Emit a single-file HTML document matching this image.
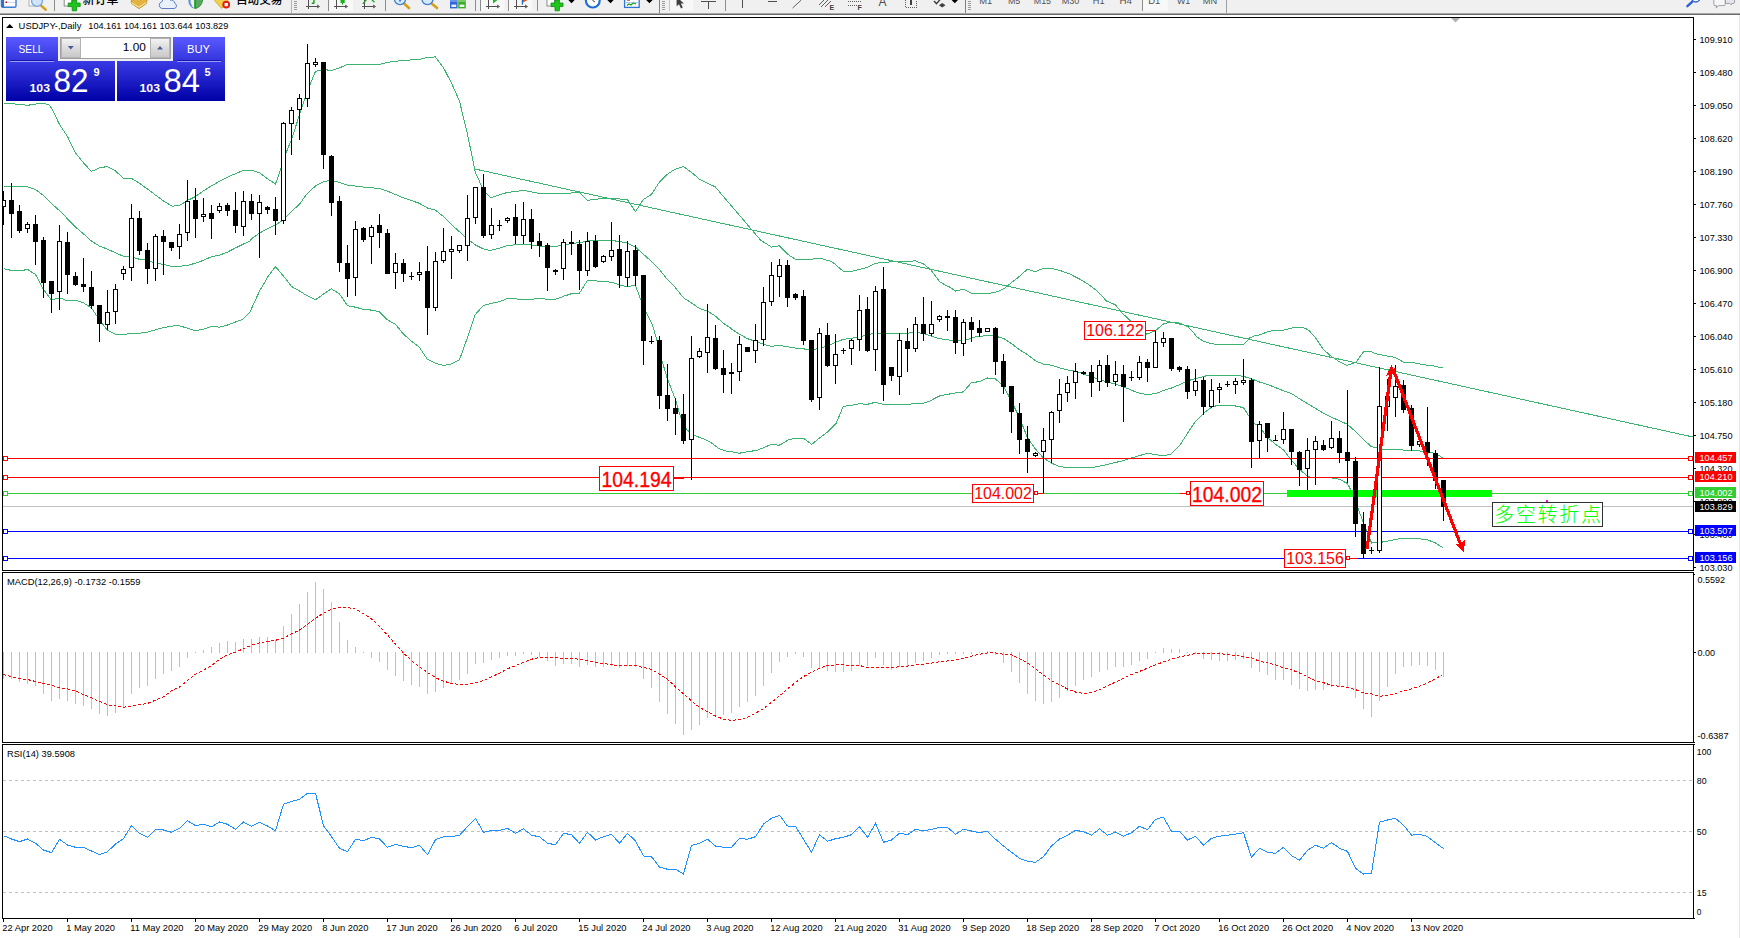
<!DOCTYPE html>
<html><head><meta charset="utf-8"><title>USDJPY Daily</title>
<style>html,body{margin:0;padding:0;background:#fff;}body{width:1740px;height:938px;overflow:hidden;}svg{display:block;}</style>
</head><body>
<svg width="1740" height="938" viewBox="0 0 1740 938" font-family='"Liberation Sans", "Noto Sans CJK SC", sans-serif' shape-rendering="crispEdges">
<defs><linearGradient id="gb" x1="0" y1="0" x2="0" y2="1"><stop offset="0" stop-color="#5a5aff"/><stop offset="1" stop-color="#3434de"/></linearGradient><linearGradient id="gp" x1="0" y1="0" x2="0" y2="1"><stop offset="0" stop-color="#3b3be6"/><stop offset="1" stop-color="#0000a6"/></linearGradient><linearGradient id="gg" x1="0" y1="0" x2="0" y2="1"><stop offset="0" stop-color="#f4f4f4"/><stop offset="0.5" stop-color="#dcdcdc"/><stop offset="1" stop-color="#c8c8c8"/></linearGradient><clipPath id="cm"><rect x="3" y="18" width="1690" height="552"/></clipPath><clipPath id="ctb"><rect x="0" y="0" width="1740" height="13"/></clipPath></defs>
<rect x="0" y="0" width="1740" height="938" fill="#fff" />
<!--TOOLBAR-->
<rect x="0" y="0" width="1740" height="13" fill="#f0f0f0" />
<rect x="0" y="13" width="1740" height="1" fill="#a8a8a8" />
<rect x="0" y="14" width="1740" height="1" fill="#6a6a6a" />
<!--FRAMES-->
<rect x="2" y="17" width="1692" height="1" fill="#000" />
<rect x="2" y="17" width="1" height="554" fill="#000" />
<rect x="2" y="570" width="1692" height="1" fill="#000" />
<rect x="2" y="572" width="1692" height="1" fill="#000" />
<rect x="2" y="572" width="1" height="171" fill="#000" />
<rect x="2" y="742" width="1692" height="1" fill="#000" />
<rect x="2" y="744" width="1692" height="1" fill="#000" />
<rect x="2" y="744" width="1" height="175" fill="#000" />
<rect x="2" y="918" width="1692" height="1" fill="#000" />
<rect x="1693" y="17" width="1" height="554" fill="#000" />
<rect x="1693" y="572" width="1" height="171" fill="#000" />
<rect x="1693" y="744" width="1" height="175" fill="#000" />
<rect x="1694" y="742" width="1" height="1" fill="#000" />
<rect x="1694" y="744" width="1" height="1" fill="#000" />
<rect x="1694" y="918" width="1" height="1" fill="#000" />
<rect x="1694" y="574" width="1" height="1" fill="#000" />
<rect x="1739" y="15" width="1" height="923" fill="#e6e6e6" />
<!--MAIN-->
<rect x="1694" y="39" width="2" height="1" fill="#000" />
<text x="1699.5" y="43" font-size="9.8" fill="#000" text-anchor="start" font-weight="normal" textLength="33" lengthAdjust="spacingAndGlyphs" >109.910</text>
<rect x="1694" y="72" width="2" height="1" fill="#000" />
<text x="1699.5" y="76" font-size="9.8" fill="#000" text-anchor="start" font-weight="normal" textLength="33" lengthAdjust="spacingAndGlyphs" >109.480</text>
<rect x="1694" y="105" width="2" height="1" fill="#000" />
<text x="1699.5" y="109" font-size="9.8" fill="#000" text-anchor="start" font-weight="normal" textLength="33" lengthAdjust="spacingAndGlyphs" >109.050</text>
<rect x="1694" y="138" width="2" height="1" fill="#000" />
<text x="1699.5" y="142" font-size="9.8" fill="#000" text-anchor="start" font-weight="normal" textLength="33" lengthAdjust="spacingAndGlyphs" >108.620</text>
<rect x="1694" y="171" width="2" height="1" fill="#000" />
<text x="1699.5" y="175" font-size="9.8" fill="#000" text-anchor="start" font-weight="normal" textLength="33" lengthAdjust="spacingAndGlyphs" >108.190</text>
<rect x="1694" y="204" width="2" height="1" fill="#000" />
<text x="1699.5" y="208" font-size="9.8" fill="#000" text-anchor="start" font-weight="normal" textLength="33" lengthAdjust="spacingAndGlyphs" >107.760</text>
<rect x="1694" y="237" width="2" height="1" fill="#000" />
<text x="1699.5" y="241" font-size="9.8" fill="#000" text-anchor="start" font-weight="normal" textLength="33" lengthAdjust="spacingAndGlyphs" >107.330</text>
<rect x="1694" y="270" width="2" height="1" fill="#000" />
<text x="1699.5" y="274" font-size="9.8" fill="#000" text-anchor="start" font-weight="normal" textLength="33" lengthAdjust="spacingAndGlyphs" >106.900</text>
<rect x="1694" y="303" width="2" height="1" fill="#000" />
<text x="1699.5" y="307" font-size="9.8" fill="#000" text-anchor="start" font-weight="normal" textLength="33" lengthAdjust="spacingAndGlyphs" >106.470</text>
<rect x="1694" y="336" width="2" height="1" fill="#000" />
<text x="1699.5" y="340" font-size="9.8" fill="#000" text-anchor="start" font-weight="normal" textLength="33" lengthAdjust="spacingAndGlyphs" >106.040</text>
<rect x="1694" y="369" width="2" height="1" fill="#000" />
<text x="1699.5" y="373" font-size="9.8" fill="#000" text-anchor="start" font-weight="normal" textLength="33" lengthAdjust="spacingAndGlyphs" >105.610</text>
<rect x="1694" y="402" width="2" height="1" fill="#000" />
<text x="1699.5" y="406" font-size="9.8" fill="#000" text-anchor="start" font-weight="normal" textLength="33" lengthAdjust="spacingAndGlyphs" >105.180</text>
<rect x="1694" y="435" width="2" height="1" fill="#000" />
<text x="1699.5" y="439" font-size="9.8" fill="#000" text-anchor="start" font-weight="normal" textLength="33" lengthAdjust="spacingAndGlyphs" >104.750</text>
<rect x="1694" y="468" width="2" height="1" fill="#000" />
<text x="1699.5" y="472" font-size="9.8" fill="#000" text-anchor="start" font-weight="normal" textLength="33" lengthAdjust="spacingAndGlyphs" >104.320</text>
<rect x="1694" y="501" width="2" height="1" fill="#000" />
<text x="1699.5" y="505" font-size="9.8" fill="#000" text-anchor="start" font-weight="normal" textLength="33" lengthAdjust="spacingAndGlyphs" >103.890</text>
<rect x="1694" y="534" width="2" height="1" fill="#000" />
<text x="1699.5" y="538" font-size="9.8" fill="#000" text-anchor="start" font-weight="normal" textLength="33" lengthAdjust="spacingAndGlyphs" >103.460</text>
<rect x="1694" y="567" width="2" height="1" fill="#000" />
<text x="1699.5" y="571" font-size="9.8" fill="#000" text-anchor="start" font-weight="normal" textLength="33" lengthAdjust="spacingAndGlyphs" >103.030</text>
<g clip-path="url(#cm)">
<polyline points="474.0,168.8 1693.0,437.0" fill="none" stroke="#3cb371" stroke-width="1" />
<polyline points="3.6,103.1 11.5,103.7 19.4,104.5 27.6,105.3 35.5,104.1 43.6,103.1 49.6,105.1 53.7,112.2 59.4,124.4 67.5,136.5 75.4,152.7 83.5,162.9 91.4,171.4 99.5,167.9 107.4,166.5 115.5,171.0 123.4,178.3 131.5,178.5 139.4,183.1 147.9,189.4 156.0,195.5 164.1,201.5 172.2,206.2 179.3,205.6 187.4,200.5 195.5,196.5 202.6,191.4 210.7,186.3 219.4,181.3 227.3,177.2 235.2,173.8 243.3,170.5 250.0,170.1 251.5,170.2 259.4,172.8 267.6,178.9 275.5,184.0 280.5,169.8 286.6,151.6 291.5,139.4 299.4,115.1 307.5,90.8 315.4,71.5 323.5,69.5 331.4,70.5 339.5,67.9 347.4,64.4 363.4,64.4 379.4,64.4 387.3,62.4 403.3,60.4 419.3,59.4 427.4,57.4 435.3,56.9 443.4,67.5 451.3,82.7 459.4,100.9 467.3,133.3 475.2,171.8 483.3,190.0 490.0,197.1 491.5,197.5 499.4,194.8 507.6,192.4 523.6,190.4 539.4,193.4 555.4,193.4 571.4,193.0 579.5,192.4 587.4,200.5 595.5,199.1 611.5,198.5 627.3,199.5 635.4,211.7 643.3,199.5 651.4,194.4 659.3,182.3 667.4,174.2 675.3,169.1 683.4,166.5 691.3,172.2 699.4,179.2 707.3,183.3 715.2,186.7 723.3,196.5 730.0,204.2 760.5,240.0 771.5,247.1 779.4,245.7 787.5,254.2 795.4,259.2 811.4,259.2 819.5,258.2 831.4,261.3 837.5,266.3 843.4,271.4 851.5,271.4 859.4,269.4 867.3,267.4 875.4,263.3 883.3,262.3 891.4,261.9 899.3,261.9 907.4,261.3 915.3,260.9 923.4,263.9 931.3,270.4 939.4,281.5 947.3,286.2 950.0,287.2 955.7,291.1 962.9,289.2 971.6,293.2 980.2,293.5 990.2,293.2 997.4,291.8 1004.6,288.2 1011.8,282.4 1019.0,276.7 1027.6,269.1 1034.8,271.7 1043.4,268.5 1052.0,268.5 1059.2,270.2 1069.3,273.8 1079.3,278.9 1087.9,283.9 1098.0,291.8 1106.6,301.1 1115.2,304.7 1122.4,313.3 1131.0,321.2 1139.7,329.1 1146.8,334.2 1155.5,330.6 1164.1,323.4 1171.3,322.4 1178.4,322.7 1187.1,326.3 1194.3,333.4 1196.0,336.3 1203.4,341.3 1209.4,343.0 1216.9,344.5 1227.4,344.5 1243.8,344.5 1249.8,337.8 1254.3,336.0 1260.2,334.8 1266.2,332.3 1273.7,330.3 1284.1,330.0 1291.6,328.1 1297.6,327.1 1305.1,328.1 1309.5,331.1 1315.5,337.8 1323.0,349.0 1330.5,355.8 1339.4,361.7 1346.9,365.5 1355.9,362.5 1363.3,352.0 1369.3,351.0 1376.8,354.0 1385.8,355.8 1394.7,357.2 1403.7,362.2 1412.7,362.5 1423.1,364.7 1435.1,366.2 1442.5,368.0" fill="none" stroke="#3cb371" stroke-width="1" />
<polyline points="3.6,186.3 11.5,186.3 19.4,186.9 27.6,186.9 35.5,189.4 43.6,195.5 51.5,203.6 59.4,210.6 67.5,218.8 75.4,226.9 83.5,233.9 91.4,241.0 99.5,246.1 107.4,249.1 115.5,252.8 123.4,256.2 131.5,256.8 139.4,259.3 147.3,260.3 155.4,263.3 163.3,264.3 171.4,266.4 179.3,266.4 187.4,265.3 195.3,263.3 203.4,260.3 211.3,256.8 219.4,255.2 227.3,252.2 235.2,248.1 243.3,244.1 250.0,241.0 251.5,238.8 259.4,233.1 267.6,228.6 275.5,225.0 283.6,219.5 291.5,211.4 299.4,204.3 307.5,193.2 315.4,186.1 323.5,181.6 331.4,180.4 339.5,182.4 347.4,185.1 363.4,187.1 379.4,188.5 387.3,191.1 403.3,197.8 419.3,203.3 427.4,208.0 435.3,210.0 443.4,216.5 451.3,224.6 459.4,231.7 467.3,238.8 475.2,244.8 483.3,248.9 490.0,250.5 491.5,250.2 499.4,248.1 507.6,245.5 523.6,244.1 531.5,245.1 539.4,246.1 555.4,246.5 563.5,245.1 571.4,243.5 579.5,242.7 587.4,241.0 595.5,240.4 611.5,240.4 619.4,241.6 627.3,243.1 635.4,247.1 643.3,254.2 651.4,261.3 659.3,269.4 667.4,279.5 675.3,287.6 683.4,297.8 691.3,302.8 699.4,308.5 707.3,310.9 715.2,316.0 723.3,323.1 730.0,327.7 731.5,329.1 739.4,334.2 747.6,338.7 755.5,341.3 763.6,344.3 771.5,346.4 779.4,345.3 787.5,346.8 795.4,348.0 803.5,348.8 811.4,350.4 819.5,348.0 827.4,346.4 835.5,342.3 843.4,339.3 851.5,338.3 859.4,336.6 867.3,335.2 875.4,332.8 883.3,333.6 891.4,333.6 899.3,333.6 907.4,333.2 915.3,332.2 923.4,333.6 931.3,336.2 939.4,338.7 947.3,339.7 955.2,341.3 963.3,340.3 970.0,338.7 971.5,337.5 979.4,336.5 987.6,335.5 995.5,336.1 1003.6,338.5 1011.5,343.6 1019.4,349.6 1027.5,354.7 1035.4,360.8 1043.5,364.2 1051.4,365.2 1059.5,367.9 1067.4,369.9 1075.5,371.3 1083.4,373.9 1091.5,377.0 1099.4,379.4 1107.3,382.1 1115.4,384.1 1123.3,386.7 1131.4,390.2 1139.3,393.2 1147.4,394.6 1155.3,393.6 1163.4,390.6 1171.3,388.1 1179.4,384.7 1187.3,381.0 1195.2,378.6 1203.3,376.6 1208.0,375.3 1210.0,375.4 1219.5,375.1 1227.5,375.1 1235.5,375.1 1243.5,376.4 1251.5,378.8 1259.5,382.0 1267.5,384.4 1275.5,387.6 1283.5,390.8 1291.4,393.5 1299.4,398.8 1307.4,403.6 1315.4,408.4 1323.4,413.1 1331.4,417.1 1339.4,420.8 1347.4,424.3 1355.4,431.5 1363.4,439.5 1371.4,446.7 1377.5,447.8 1383.9,449.4 1400.0,449.4 1403.4,450.2 1411.5,450.4 1419.5,451.0 1427.5,452.1 1435.5,453.4 1442.6,457.8" fill="none" stroke="#3cb371" stroke-width="1" />
<polyline points="3.6,268.8 11.5,270.4 19.4,271.0 27.6,269.4 35.5,274.5 43.6,289.7 51.5,300.2 59.4,297.8 67.5,300.8 75.4,300.2 83.5,302.8 91.4,307.9 99.5,320.0 107.4,330.2 115.5,334.2 123.4,334.2 131.5,333.8 139.4,333.2 147.3,332.2 155.4,329.8 163.3,327.7 171.4,326.1 179.3,325.7 187.4,328.2 195.3,330.6 203.4,329.2 211.3,326.5 219.4,327.1 227.3,325.1 235.2,322.1 243.3,319.0 250.0,311.9 259.4,291.4 267.6,277.2 275.5,266.7 283.6,276.2 291.5,286.4 299.4,291.0 307.5,295.9 315.4,299.9 323.5,294.1 331.4,288.8 339.5,293.9 347.4,305.6 355.5,307.2 363.4,309.3 371.5,310.1 379.4,311.7 387.3,319.8 395.4,324.2 403.3,334.0 411.4,341.1 419.3,347.1 427.4,359.3 435.3,363.3 443.4,365.4 451.3,364.0 459.4,359.9 467.3,338.0 475.2,314.7 483.3,305.6 490.0,303.6 499.4,301.8 507.6,298.4 523.6,299.4 539.4,298.8 555.4,299.4 563.5,296.3 571.4,293.7 579.5,293.1 587.4,280.5 595.5,280.9 611.5,282.2 619.4,285.0 627.3,286.6 635.4,285.2 640.0,297.8 646.1,311.9 652.2,324.1 656.3,338.3 662.3,361.7 667.4,378.9 675.3,399.1 680.6,417.4 686.6,429.5 694.7,435.6 702.9,438.6 711.0,442.7 719.1,448.8 726.2,451.2 730.0,451.2 738.8,453.3 746.9,451.9 757.0,450.3 763.1,447.9 771.2,444.4 779.3,445.2 789.4,439.4 795.5,438.3 803.6,438.3 811.7,444.4 819.8,437.7 827.9,431.7 836.0,423.6 843.3,406.3 851.4,405.3 859.3,403.7 867.4,404.3 875.3,402.3 883.4,404.3 891.3,404.3 899.4,404.3 909.9,404.3 915.2,403.3 923.3,403.3 930.0,400.9 939.4,396.0 947.3,394.4 955.2,393.0 963.3,391.9 970.0,384.2 971.5,382.7 979.4,381.6 987.6,378.0 995.5,379.0 1003.6,386.1 1011.5,401.3 1019.4,417.5 1027.5,437.8 1035.4,448.9 1043.5,458.0 1051.4,463.1 1059.5,466.5 1067.4,467.7 1075.5,467.7 1091.5,467.7 1099.4,466.1 1107.3,464.5 1115.4,462.5 1123.3,460.7 1131.4,458.0 1139.3,455.6 1147.4,453.4 1155.3,454.4 1163.4,456.0 1171.3,454.0 1179.4,445.9 1187.3,433.7 1195.2,421.6 1203.3,413.5 1210.0,408.4 1211.5,406.8 1219.5,405.2 1227.5,405.5 1235.5,406.0 1243.5,407.6 1248.0,414.7 1254.4,423.5 1259.5,426.7 1267.5,437.6 1275.5,444.3 1283.5,449.9 1291.4,460.3 1299.4,469.1 1307.4,476.3 1311.9,477.4 1327.9,477.4 1339.4,479.2 1347.4,483.5 1350.3,489.1 1358.0,508.5 1362.5,520.2 1367.7,533.2 1371.6,543.0 1375.5,542.6 1382.0,542.1 1391.1,540.4 1401.5,538.4 1414.5,538.2 1427.6,539.8 1435.5,543.0 1442.6,547.6" fill="none" stroke="#3cb371" stroke-width="1" />
<rect x="3" y="458" width="1690" height="1" fill="#ff0000" />
<rect x="3" y="477" width="1690" height="1" fill="#ff0000" />
<rect x="3" y="493" width="1690" height="1" fill="#32cd32" />
<rect x="3" y="506" width="1690" height="1" fill="#c0c0c0" />
<rect x="3" y="531" width="1690" height="1" fill="#0000ff" />
<rect x="3" y="558" width="1690" height="1" fill="#0000ff" />
<rect x="1287" y="490" width="205" height="7" fill="#00ff00" />
<rect x="3" y="191" width="1" height="34" fill="#000" />
<rect x="1" y="200" width="5" height="7" fill="#000" />
<rect x="2" y="201" width="3" height="5" fill="#fff" />
<rect x="11" y="183" width="1" height="55" fill="#000" />
<rect x="9" y="200" width="5" height="14" fill="#000" />
<rect x="19" y="205" width="1" height="28" fill="#000" />
<rect x="17" y="211" width="5" height="20" fill="#000" />
<rect x="27" y="222" width="1" height="11" fill="#000" />
<rect x="25" y="224" width="5" height="5" fill="#000" />
<rect x="26" y="225" width="3" height="3" fill="#fff" />
<rect x="35" y="215" width="1" height="50" fill="#000" />
<rect x="33" y="224" width="5" height="18" fill="#000" />
<rect x="43" y="237" width="1" height="61" fill="#000" />
<rect x="41" y="240" width="5" height="43" fill="#000" />
<rect x="51" y="281" width="1" height="32" fill="#000" />
<rect x="49" y="281" width="5" height="13" fill="#000" />
<rect x="59" y="225" width="1" height="85" fill="#000" />
<rect x="57" y="241" width="5" height="51" fill="#000" />
<rect x="58" y="242" width="3" height="49" fill="#fff" />
<rect x="67" y="232" width="1" height="62" fill="#000" />
<rect x="65" y="242" width="5" height="33" fill="#000" />
<rect x="75" y="272" width="1" height="14" fill="#000" />
<rect x="73" y="276" width="5" height="9" fill="#000" />
<rect x="83" y="258" width="1" height="34" fill="#000" />
<rect x="81" y="284" width="5" height="3" fill="#000" />
<rect x="91" y="271" width="1" height="38" fill="#000" />
<rect x="89" y="287" width="5" height="19" fill="#000" />
<rect x="99" y="305" width="1" height="37" fill="#000" />
<rect x="97" y="305" width="5" height="19" fill="#000" />
<rect x="107" y="290" width="1" height="40" fill="#000" />
<rect x="105" y="312" width="5" height="13" fill="#000" />
<rect x="106" y="313" width="3" height="11" fill="#fff" />
<rect x="115" y="284" width="1" height="40" fill="#000" />
<rect x="113" y="289" width="5" height="23" fill="#000" />
<rect x="114" y="290" width="3" height="21" fill="#fff" />
<rect x="123" y="266" width="1" height="14" fill="#000" />
<rect x="121" y="269" width="5" height="5" fill="#000" />
<rect x="122" y="270" width="3" height="3" fill="#fff" />
<rect x="131" y="204" width="1" height="77" fill="#000" />
<rect x="129" y="218" width="5" height="50" fill="#000" />
<rect x="130" y="219" width="3" height="48" fill="#fff" />
<rect x="139" y="211" width="1" height="44" fill="#000" />
<rect x="137" y="218" width="5" height="33" fill="#000" />
<rect x="147" y="243" width="1" height="41" fill="#000" />
<rect x="145" y="250" width="5" height="19" fill="#000" />
<rect x="155" y="234" width="1" height="47" fill="#000" />
<rect x="153" y="236" width="5" height="33" fill="#000" />
<rect x="154" y="237" width="3" height="31" fill="#fff" />
<rect x="163" y="230" width="1" height="45" fill="#000" />
<rect x="161" y="236" width="5" height="6" fill="#000" />
<rect x="171" y="242" width="1" height="9" fill="#000" />
<rect x="169" y="242" width="5" height="6" fill="#000" />
<rect x="179" y="224" width="1" height="35" fill="#000" />
<rect x="177" y="234" width="5" height="13" fill="#000" />
<rect x="178" y="235" width="3" height="11" fill="#fff" />
<rect x="187" y="180" width="1" height="61" fill="#000" />
<rect x="185" y="201" width="5" height="32" fill="#000" />
<rect x="186" y="202" width="3" height="30" fill="#fff" />
<rect x="195" y="188" width="1" height="50" fill="#000" />
<rect x="193" y="200" width="5" height="19" fill="#000" />
<rect x="203" y="198" width="1" height="24" fill="#000" />
<rect x="201" y="214" width="5" height="3" fill="#000" />
<rect x="202" y="215" width="3" height="1" fill="#fff" />
<rect x="211" y="205" width="1" height="34" fill="#000" />
<rect x="209" y="213" width="5" height="6" fill="#000" />
<rect x="219" y="203" width="1" height="10" fill="#000" />
<rect x="217" y="206" width="5" height="5" fill="#000" />
<rect x="218" y="207" width="3" height="3" fill="#fff" />
<rect x="227" y="203" width="1" height="13" fill="#000" />
<rect x="225" y="205" width="5" height="6" fill="#000" />
<rect x="235" y="192" width="1" height="41" fill="#000" />
<rect x="233" y="210" width="5" height="16" fill="#000" />
<rect x="243" y="191" width="1" height="45" fill="#000" />
<rect x="241" y="201" width="5" height="26" fill="#000" />
<rect x="242" y="202" width="3" height="24" fill="#fff" />
<rect x="251" y="194" width="1" height="26" fill="#000" />
<rect x="249" y="201" width="5" height="13" fill="#000" />
<rect x="259" y="195" width="1" height="63" fill="#000" />
<rect x="257" y="202" width="5" height="12" fill="#000" />
<rect x="258" y="203" width="3" height="10" fill="#fff" />
<rect x="267" y="206" width="1" height="8" fill="#000" />
<rect x="265" y="207" width="5" height="3" fill="#000" />
<rect x="275" y="197" width="1" height="38" fill="#000" />
<rect x="273" y="209" width="5" height="12" fill="#000" />
<rect x="283" y="122" width="1" height="102" fill="#000" />
<rect x="281" y="123" width="5" height="98" fill="#000" />
<rect x="282" y="124" width="3" height="96" fill="#fff" />
<rect x="291" y="107" width="1" height="48" fill="#000" />
<rect x="289" y="110" width="5" height="14" fill="#000" />
<rect x="290" y="111" width="3" height="12" fill="#fff" />
<rect x="299" y="94" width="1" height="46" fill="#000" />
<rect x="297" y="98" width="5" height="12" fill="#000" />
<rect x="298" y="99" width="3" height="10" fill="#fff" />
<rect x="307" y="44" width="1" height="63" fill="#000" />
<rect x="305" y="63" width="5" height="36" fill="#000" />
<rect x="306" y="64" width="3" height="34" fill="#fff" />
<rect x="315" y="58" width="1" height="9" fill="#000" />
<rect x="313" y="62" width="5" height="3" fill="#000" />
<rect x="314" y="63" width="3" height="1" fill="#fff" />
<rect x="323" y="62" width="1" height="107" fill="#000" />
<rect x="321" y="62" width="5" height="93" fill="#000" />
<rect x="331" y="155" width="1" height="61" fill="#000" />
<rect x="329" y="156" width="5" height="47" fill="#000" />
<rect x="339" y="196" width="1" height="76" fill="#000" />
<rect x="337" y="201" width="5" height="62" fill="#000" />
<rect x="347" y="245" width="1" height="52" fill="#000" />
<rect x="345" y="263" width="5" height="16" fill="#000" />
<rect x="355" y="221" width="1" height="75" fill="#000" />
<rect x="353" y="229" width="5" height="49" fill="#000" />
<rect x="354" y="230" width="3" height="47" fill="#fff" />
<rect x="363" y="227" width="1" height="15" fill="#000" />
<rect x="361" y="228" width="5" height="12" fill="#000" />
<rect x="371" y="225" width="1" height="39" fill="#000" />
<rect x="369" y="227" width="5" height="10" fill="#000" />
<rect x="370" y="228" width="3" height="8" fill="#fff" />
<rect x="379" y="214" width="1" height="34" fill="#000" />
<rect x="377" y="225" width="5" height="8" fill="#000" />
<rect x="387" y="229" width="1" height="45" fill="#000" />
<rect x="385" y="233" width="5" height="41" fill="#000" />
<rect x="395" y="253" width="1" height="36" fill="#000" />
<rect x="393" y="263" width="5" height="10" fill="#000" />
<rect x="394" y="264" width="3" height="8" fill="#fff" />
<rect x="403" y="259" width="1" height="23" fill="#000" />
<rect x="401" y="263" width="5" height="11" fill="#000" />
<rect x="411" y="272" width="1" height="8" fill="#000" />
<rect x="409" y="276" width="5" height="1" fill="#000" />
<rect x="419" y="262" width="1" height="19" fill="#000" />
<rect x="417" y="272" width="5" height="3" fill="#000" />
<rect x="418" y="273" width="3" height="1" fill="#fff" />
<rect x="427" y="246" width="1" height="89" fill="#000" />
<rect x="425" y="271" width="5" height="37" fill="#000" />
<rect x="435" y="252" width="1" height="59" fill="#000" />
<rect x="433" y="261" width="5" height="47" fill="#000" />
<rect x="434" y="262" width="3" height="45" fill="#fff" />
<rect x="443" y="228" width="1" height="35" fill="#000" />
<rect x="441" y="251" width="5" height="10" fill="#000" />
<rect x="442" y="252" width="3" height="8" fill="#fff" />
<rect x="451" y="236" width="1" height="43" fill="#000" />
<rect x="449" y="249" width="5" height="3" fill="#000" />
<rect x="450" y="250" width="3" height="1" fill="#fff" />
<rect x="459" y="245" width="1" height="8" fill="#000" />
<rect x="457" y="245" width="5" height="6" fill="#000" />
<rect x="458" y="246" width="3" height="4" fill="#fff" />
<rect x="467" y="195" width="1" height="66" fill="#000" />
<rect x="465" y="218" width="5" height="28" fill="#000" />
<rect x="466" y="219" width="3" height="26" fill="#fff" />
<rect x="475" y="187" width="1" height="37" fill="#000" />
<rect x="473" y="187" width="5" height="31" fill="#000" />
<rect x="474" y="188" width="3" height="29" fill="#fff" />
<rect x="483" y="174" width="1" height="64" fill="#000" />
<rect x="481" y="187" width="5" height="49" fill="#000" />
<rect x="491" y="208" width="1" height="31" fill="#000" />
<rect x="489" y="225" width="5" height="10" fill="#000" />
<rect x="490" y="226" width="3" height="8" fill="#fff" />
<rect x="499" y="220" width="1" height="11" fill="#000" />
<rect x="497" y="225" width="5" height="1" fill="#000" />
<rect x="507" y="217" width="1" height="6" fill="#000" />
<rect x="505" y="218" width="5" height="3" fill="#000" />
<rect x="506" y="219" width="3" height="1" fill="#fff" />
<rect x="515" y="204" width="1" height="40" fill="#000" />
<rect x="513" y="217" width="5" height="19" fill="#000" />
<rect x="523" y="202" width="1" height="42" fill="#000" />
<rect x="521" y="219" width="5" height="17" fill="#000" />
<rect x="522" y="220" width="3" height="15" fill="#fff" />
<rect x="531" y="209" width="1" height="40" fill="#000" />
<rect x="529" y="219" width="5" height="23" fill="#000" />
<rect x="539" y="233" width="1" height="24" fill="#000" />
<rect x="537" y="241" width="5" height="5" fill="#000" />
<rect x="547" y="243" width="1" height="48" fill="#000" />
<rect x="545" y="245" width="5" height="23" fill="#000" />
<rect x="555" y="269" width="1" height="6" fill="#000" />
<rect x="553" y="270" width="5" height="2" fill="#000" />
<rect x="563" y="239" width="1" height="41" fill="#000" />
<rect x="561" y="242" width="5" height="27" fill="#000" />
<rect x="562" y="243" width="3" height="25" fill="#fff" />
<rect x="571" y="231" width="1" height="24" fill="#000" />
<rect x="569" y="242" width="5" height="2" fill="#000" />
<rect x="579" y="240" width="1" height="50" fill="#000" />
<rect x="577" y="244" width="5" height="27" fill="#000" />
<rect x="587" y="232" width="1" height="44" fill="#000" />
<rect x="585" y="241" width="5" height="30" fill="#000" />
<rect x="586" y="242" width="3" height="28" fill="#fff" />
<rect x="595" y="235" width="1" height="33" fill="#000" />
<rect x="593" y="241" width="5" height="26" fill="#000" />
<rect x="603" y="255" width="1" height="8" fill="#000" />
<rect x="601" y="256" width="5" height="6" fill="#000" />
<rect x="602" y="257" width="3" height="4" fill="#fff" />
<rect x="611" y="222" width="1" height="39" fill="#000" />
<rect x="609" y="250" width="5" height="7" fill="#000" />
<rect x="610" y="251" width="3" height="5" fill="#fff" />
<rect x="619" y="235" width="1" height="53" fill="#000" />
<rect x="617" y="249" width="5" height="27" fill="#000" />
<rect x="627" y="241" width="1" height="46" fill="#000" />
<rect x="625" y="251" width="5" height="27" fill="#000" />
<rect x="626" y="252" width="3" height="25" fill="#fff" />
<rect x="635" y="245" width="1" height="41" fill="#000" />
<rect x="633" y="250" width="5" height="26" fill="#000" />
<rect x="643" y="275" width="1" height="90" fill="#000" />
<rect x="641" y="275" width="5" height="66" fill="#000" />
<rect x="651" y="336" width="1" height="8" fill="#000" />
<rect x="649" y="341" width="5" height="1" fill="#000" />
<rect x="659" y="336" width="1" height="73" fill="#000" />
<rect x="657" y="340" width="5" height="56" fill="#000" />
<rect x="667" y="364" width="1" height="57" fill="#000" />
<rect x="665" y="395" width="5" height="14" fill="#000" />
<rect x="675" y="398" width="1" height="37" fill="#000" />
<rect x="673" y="408" width="5" height="6" fill="#000" />
<rect x="683" y="394" width="1" height="50" fill="#000" />
<rect x="681" y="414" width="5" height="27" fill="#000" />
<rect x="691" y="336" width="1" height="144" fill="#000" />
<rect x="689" y="358" width="5" height="82" fill="#000" />
<rect x="690" y="359" width="3" height="80" fill="#fff" />
<rect x="699" y="348" width="1" height="10" fill="#000" />
<rect x="697" y="351" width="5" height="6" fill="#000" />
<rect x="698" y="352" width="3" height="4" fill="#fff" />
<rect x="707" y="304" width="1" height="69" fill="#000" />
<rect x="705" y="337" width="5" height="16" fill="#000" />
<rect x="706" y="338" width="3" height="14" fill="#fff" />
<rect x="715" y="325" width="1" height="45" fill="#000" />
<rect x="713" y="338" width="5" height="31" fill="#000" />
<rect x="723" y="350" width="1" height="43" fill="#000" />
<rect x="721" y="368" width="5" height="7" fill="#000" />
<rect x="731" y="363" width="1" height="31" fill="#000" />
<rect x="729" y="372" width="5" height="2" fill="#000" />
<rect x="739" y="336" width="1" height="45" fill="#000" />
<rect x="737" y="344" width="5" height="28" fill="#000" />
<rect x="738" y="345" width="3" height="26" fill="#fff" />
<rect x="747" y="347" width="1" height="5" fill="#000" />
<rect x="745" y="347" width="5" height="5" fill="#000" />
<rect x="755" y="324" width="1" height="39" fill="#000" />
<rect x="753" y="340" width="5" height="11" fill="#000" />
<rect x="754" y="341" width="3" height="9" fill="#fff" />
<rect x="763" y="287" width="1" height="59" fill="#000" />
<rect x="761" y="302" width="5" height="38" fill="#000" />
<rect x="762" y="303" width="3" height="36" fill="#fff" />
<rect x="771" y="262" width="1" height="44" fill="#000" />
<rect x="769" y="275" width="5" height="27" fill="#000" />
<rect x="770" y="276" width="3" height="25" fill="#fff" />
<rect x="779" y="259" width="1" height="38" fill="#000" />
<rect x="777" y="265" width="5" height="12" fill="#000" />
<rect x="778" y="266" width="3" height="10" fill="#fff" />
<rect x="787" y="260" width="1" height="47" fill="#000" />
<rect x="785" y="265" width="5" height="33" fill="#000" />
<rect x="795" y="293" width="1" height="7" fill="#000" />
<rect x="793" y="294" width="5" height="4" fill="#000" />
<rect x="803" y="290" width="1" height="55" fill="#000" />
<rect x="801" y="296" width="5" height="45" fill="#000" />
<rect x="811" y="340" width="1" height="62" fill="#000" />
<rect x="809" y="340" width="5" height="60" fill="#000" />
<rect x="819" y="328" width="1" height="82" fill="#000" />
<rect x="817" y="333" width="5" height="65" fill="#000" />
<rect x="818" y="334" width="3" height="63" fill="#fff" />
<rect x="827" y="323" width="1" height="44" fill="#000" />
<rect x="825" y="335" width="5" height="31" fill="#000" />
<rect x="835" y="334" width="1" height="50" fill="#000" />
<rect x="833" y="354" width="5" height="12" fill="#000" />
<rect x="834" y="355" width="3" height="10" fill="#fff" />
<rect x="843" y="348" width="1" height="6" fill="#000" />
<rect x="841" y="350" width="5" height="1" fill="#000" />
<rect x="851" y="339" width="1" height="26" fill="#000" />
<rect x="849" y="340" width="5" height="9" fill="#000" />
<rect x="850" y="341" width="3" height="7" fill="#fff" />
<rect x="859" y="295" width="1" height="56" fill="#000" />
<rect x="857" y="310" width="5" height="30" fill="#000" />
<rect x="858" y="311" width="3" height="28" fill="#fff" />
<rect x="867" y="297" width="1" height="55" fill="#000" />
<rect x="865" y="309" width="5" height="42" fill="#000" />
<rect x="875" y="286" width="1" height="85" fill="#000" />
<rect x="873" y="291" width="5" height="59" fill="#000" />
<rect x="874" y="292" width="3" height="57" fill="#fff" />
<rect x="883" y="267" width="1" height="134" fill="#000" />
<rect x="881" y="289" width="5" height="96" fill="#000" />
<rect x="891" y="367" width="1" height="14" fill="#000" />
<rect x="889" y="367" width="5" height="9" fill="#000" />
<rect x="899" y="333" width="1" height="62" fill="#000" />
<rect x="897" y="340" width="5" height="37" fill="#000" />
<rect x="898" y="341" width="3" height="35" fill="#fff" />
<rect x="907" y="328" width="1" height="44" fill="#000" />
<rect x="905" y="341" width="5" height="8" fill="#000" />
<rect x="915" y="317" width="1" height="35" fill="#000" />
<rect x="913" y="324" width="5" height="25" fill="#000" />
<rect x="914" y="325" width="3" height="23" fill="#fff" />
<rect x="923" y="297" width="1" height="44" fill="#000" />
<rect x="921" y="324" width="5" height="10" fill="#000" />
<rect x="931" y="301" width="1" height="35" fill="#000" />
<rect x="929" y="324" width="5" height="10" fill="#000" />
<rect x="930" y="325" width="3" height="8" fill="#fff" />
<rect x="939" y="315" width="1" height="7" fill="#000" />
<rect x="937" y="316" width="5" height="4" fill="#000" />
<rect x="938" y="317" width="3" height="2" fill="#fff" />
<rect x="947" y="310" width="1" height="21" fill="#000" />
<rect x="945" y="316" width="5" height="2" fill="#000" />
<rect x="955" y="310" width="1" height="44" fill="#000" />
<rect x="953" y="317" width="5" height="26" fill="#000" />
<rect x="963" y="319" width="1" height="37" fill="#000" />
<rect x="961" y="322" width="5" height="22" fill="#000" />
<rect x="962" y="323" width="3" height="20" fill="#fff" />
<rect x="971" y="317" width="1" height="25" fill="#000" />
<rect x="969" y="322" width="5" height="8" fill="#000" />
<rect x="979" y="320" width="1" height="17" fill="#000" />
<rect x="977" y="328" width="5" height="5" fill="#000" />
<rect x="987" y="328" width="1" height="4" fill="#000" />
<rect x="985" y="328" width="5" height="4" fill="#000" />
<rect x="986" y="329" width="3" height="2" fill="#fff" />
<rect x="995" y="327" width="1" height="48" fill="#000" />
<rect x="993" y="328" width="5" height="34" fill="#000" />
<rect x="1003" y="354" width="1" height="40" fill="#000" />
<rect x="1001" y="361" width="5" height="26" fill="#000" />
<rect x="1011" y="386" width="1" height="47" fill="#000" />
<rect x="1009" y="386" width="5" height="26" fill="#000" />
<rect x="1019" y="403" width="1" height="51" fill="#000" />
<rect x="1017" y="413" width="5" height="27" fill="#000" />
<rect x="1027" y="426" width="1" height="47" fill="#000" />
<rect x="1025" y="439" width="5" height="13" fill="#000" />
<rect x="1035" y="452" width="1" height="5" fill="#000" />
<rect x="1033" y="453" width="5" height="3" fill="#000" />
<rect x="1034" y="454" width="3" height="1" fill="#fff" />
<rect x="1043" y="428" width="1" height="65" fill="#000" />
<rect x="1041" y="440" width="5" height="12" fill="#000" />
<rect x="1042" y="441" width="3" height="10" fill="#fff" />
<rect x="1051" y="411" width="1" height="52" fill="#000" />
<rect x="1049" y="412" width="5" height="28" fill="#000" />
<rect x="1050" y="413" width="3" height="26" fill="#fff" />
<rect x="1059" y="379" width="1" height="44" fill="#000" />
<rect x="1057" y="394" width="5" height="17" fill="#000" />
<rect x="1058" y="395" width="3" height="15" fill="#fff" />
<rect x="1067" y="376" width="1" height="26" fill="#000" />
<rect x="1065" y="383" width="5" height="10" fill="#000" />
<rect x="1066" y="384" width="3" height="8" fill="#fff" />
<rect x="1075" y="363" width="1" height="36" fill="#000" />
<rect x="1073" y="371" width="5" height="12" fill="#000" />
<rect x="1074" y="372" width="3" height="10" fill="#fff" />
<rect x="1083" y="371" width="1" height="4" fill="#000" />
<rect x="1081" y="372" width="5" height="2" fill="#000" />
<rect x="1091" y="365" width="1" height="32" fill="#000" />
<rect x="1089" y="372" width="5" height="11" fill="#000" />
<rect x="1099" y="360" width="1" height="31" fill="#000" />
<rect x="1097" y="365" width="5" height="17" fill="#000" />
<rect x="1098" y="366" width="3" height="15" fill="#fff" />
<rect x="1107" y="355" width="1" height="32" fill="#000" />
<rect x="1105" y="365" width="5" height="18" fill="#000" />
<rect x="1115" y="361" width="1" height="25" fill="#000" />
<rect x="1113" y="374" width="5" height="8" fill="#000" />
<rect x="1114" y="375" width="3" height="6" fill="#fff" />
<rect x="1123" y="365" width="1" height="57" fill="#000" />
<rect x="1121" y="374" width="5" height="13" fill="#000" />
<rect x="1131" y="371" width="1" height="10" fill="#000" />
<rect x="1129" y="377" width="5" height="1" fill="#000" />
<rect x="1139" y="356" width="1" height="24" fill="#000" />
<rect x="1137" y="362" width="5" height="16" fill="#000" />
<rect x="1138" y="363" width="3" height="14" fill="#fff" />
<rect x="1147" y="359" width="1" height="23" fill="#000" />
<rect x="1145" y="362" width="5" height="6" fill="#000" />
<rect x="1155" y="331" width="1" height="37" fill="#000" />
<rect x="1153" y="342" width="5" height="26" fill="#000" />
<rect x="1154" y="343" width="3" height="24" fill="#fff" />
<rect x="1163" y="332" width="1" height="15" fill="#000" />
<rect x="1161" y="338" width="5" height="5" fill="#000" />
<rect x="1162" y="339" width="3" height="3" fill="#fff" />
<rect x="1171" y="338" width="1" height="33" fill="#000" />
<rect x="1169" y="338" width="5" height="31" fill="#000" />
<rect x="1179" y="366" width="1" height="6" fill="#000" />
<rect x="1177" y="367" width="5" height="3" fill="#000" />
<rect x="1187" y="366" width="1" height="33" fill="#000" />
<rect x="1185" y="369" width="5" height="23" fill="#000" />
<rect x="1195" y="369" width="1" height="27" fill="#000" />
<rect x="1193" y="381" width="5" height="10" fill="#000" />
<rect x="1194" y="382" width="3" height="8" fill="#fff" />
<rect x="1203" y="377" width="1" height="38" fill="#000" />
<rect x="1201" y="380" width="5" height="27" fill="#000" />
<rect x="1211" y="379" width="1" height="29" fill="#000" />
<rect x="1209" y="390" width="5" height="17" fill="#000" />
<rect x="1210" y="391" width="3" height="15" fill="#fff" />
<rect x="1219" y="383" width="1" height="20" fill="#000" />
<rect x="1217" y="387" width="5" height="3" fill="#000" />
<rect x="1218" y="388" width="3" height="1" fill="#fff" />
<rect x="1227" y="381" width="1" height="6" fill="#000" />
<rect x="1225" y="384" width="5" height="1" fill="#000" />
<rect x="1235" y="378" width="1" height="16" fill="#000" />
<rect x="1233" y="381" width="5" height="4" fill="#000" />
<rect x="1234" y="382" width="3" height="2" fill="#fff" />
<rect x="1243" y="359" width="1" height="26" fill="#000" />
<rect x="1241" y="380" width="5" height="3" fill="#000" />
<rect x="1242" y="381" width="3" height="1" fill="#fff" />
<rect x="1251" y="378" width="1" height="90" fill="#000" />
<rect x="1249" y="380" width="5" height="62" fill="#000" />
<rect x="1259" y="421" width="1" height="37" fill="#000" />
<rect x="1257" y="424" width="5" height="17" fill="#000" />
<rect x="1258" y="425" width="3" height="15" fill="#fff" />
<rect x="1267" y="423" width="1" height="29" fill="#000" />
<rect x="1265" y="423" width="5" height="15" fill="#000" />
<rect x="1275" y="435" width="1" height="5" fill="#000" />
<rect x="1273" y="440" width="5" height="1" fill="#000" />
<rect x="1283" y="412" width="1" height="32" fill="#000" />
<rect x="1281" y="429" width="5" height="11" fill="#000" />
<rect x="1282" y="430" width="3" height="9" fill="#fff" />
<rect x="1291" y="429" width="1" height="36" fill="#000" />
<rect x="1289" y="429" width="5" height="23" fill="#000" />
<rect x="1299" y="451" width="1" height="35" fill="#000" />
<rect x="1297" y="452" width="5" height="18" fill="#000" />
<rect x="1307" y="438" width="1" height="52" fill="#000" />
<rect x="1305" y="450" width="5" height="19" fill="#000" />
<rect x="1306" y="451" width="3" height="17" fill="#fff" />
<rect x="1315" y="436" width="1" height="49" fill="#000" />
<rect x="1313" y="441" width="5" height="9" fill="#000" />
<rect x="1314" y="442" width="3" height="7" fill="#fff" />
<rect x="1323" y="440" width="1" height="11" fill="#000" />
<rect x="1321" y="445" width="5" height="5" fill="#000" />
<rect x="1331" y="421" width="1" height="28" fill="#000" />
<rect x="1329" y="438" width="5" height="10" fill="#000" />
<rect x="1330" y="439" width="3" height="8" fill="#fff" />
<rect x="1339" y="431" width="1" height="32" fill="#000" />
<rect x="1337" y="438" width="5" height="15" fill="#000" />
<rect x="1347" y="390" width="1" height="93" fill="#000" />
<rect x="1345" y="452" width="5" height="9" fill="#000" />
<rect x="1355" y="457" width="1" height="80" fill="#000" />
<rect x="1353" y="461" width="5" height="63" fill="#000" />
<rect x="1363" y="512" width="1" height="46" fill="#000" />
<rect x="1361" y="524" width="5" height="30" fill="#000" />
<rect x="1371" y="547" width="1" height="7" fill="#000" />
<rect x="1369" y="550" width="5" height="1" fill="#000" />
<rect x="1379" y="367" width="1" height="186" fill="#000" />
<rect x="1377" y="406" width="5" height="145" fill="#000" />
<rect x="1378" y="407" width="3" height="143" fill="#fff" />
<rect x="1387" y="379" width="1" height="52" fill="#000" />
<rect x="1385" y="396" width="5" height="11" fill="#000" />
<rect x="1386" y="397" width="3" height="9" fill="#fff" />
<rect x="1395" y="365" width="1" height="52" fill="#000" />
<rect x="1393" y="386" width="5" height="12" fill="#000" />
<rect x="1394" y="387" width="3" height="10" fill="#fff" />
<rect x="1403" y="380" width="1" height="33" fill="#000" />
<rect x="1401" y="385" width="5" height="25" fill="#000" />
<rect x="1411" y="405" width="1" height="46" fill="#000" />
<rect x="1409" y="408" width="5" height="38" fill="#000" />
<rect x="1419" y="440" width="1" height="7" fill="#000" />
<rect x="1417" y="441" width="5" height="4" fill="#000" />
<rect x="1418" y="442" width="3" height="2" fill="#fff" />
<rect x="1427" y="407" width="1" height="59" fill="#000" />
<rect x="1425" y="442" width="5" height="11" fill="#000" />
<rect x="1435" y="450" width="1" height="39" fill="#000" />
<rect x="1433" y="453" width="5" height="28" fill="#000" />
<rect x="1443" y="480" width="1" height="41" fill="#000" />
<rect x="1441" y="480" width="5" height="27" fill="#000" />
</g>
<rect x="3.5" y="456.5" width="4" height="4" fill="#fff" stroke="#ff0000" stroke-width="1"/>
<rect x="1688.5" y="456.5" width="4" height="4" fill="#fff" stroke="#ff0000" stroke-width="1"/>
<rect x="3.5" y="475.5" width="4" height="4" fill="#fff" stroke="#ff0000" stroke-width="1"/>
<rect x="1688.5" y="475.5" width="4" height="4" fill="#fff" stroke="#ff0000" stroke-width="1"/>
<rect x="3.5" y="491.5" width="4" height="4" fill="#fff" stroke="#32cd32" stroke-width="1"/>
<rect x="1688.5" y="491.5" width="4" height="4" fill="#fff" stroke="#32cd32" stroke-width="1"/>
<rect x="3.5" y="529.5" width="4" height="4" fill="#fff" stroke="#0000ff" stroke-width="1"/>
<rect x="1688.5" y="529.5" width="4" height="4" fill="#fff" stroke="#0000ff" stroke-width="1"/>
<rect x="3.5" y="556.5" width="4" height="4" fill="#fff" stroke="#0000ff" stroke-width="1"/>
<rect x="1688.5" y="556.5" width="4" height="4" fill="#fff" stroke="#0000ff" stroke-width="1"/>
<g shape-rendering="crispEdges">
<path d="M1367,549 L1391,371" stroke="#ff0000" stroke-width="3.2" fill="none"/>
<path d="M1393,369 L1462,548" stroke="#ff0000" stroke-width="3.2" fill="none"/>
<path d="M1391.5,365 L1386,376.2 L1391,373.5 L1396.8,375.5 Z" fill="#ff0000"/>
<path d="M1464.2,553 L1455,543.8 L1460,543.6 L1464.8,540 Z" fill="#ff0000"/>
</g>
<rect x="599.5" y="466.5" width="74" height="24" fill="#fff" stroke="#ff0000" stroke-width="1"/>
<text x="636.5" y="486.738" font-size="22.6" fill="#ff0000" text-anchor="middle" font-weight="normal" textLength="70" lengthAdjust="spacingAndGlyphs" stroke="#ff0000" stroke-width="0.35">104.194</text>
<rect x="1190.5" y="481.5" width="73" height="24" fill="#fff" stroke="#ff0000" stroke-width="1"/>
<text x="1227" y="501.738" font-size="22.6" fill="#ff0000" text-anchor="middle" font-weight="normal" textLength="70" lengthAdjust="spacingAndGlyphs" stroke="#ff0000" stroke-width="0.35">104.002</text>
<rect x="1084.5" y="321.5" width="61" height="18" fill="#fff" stroke="#ff0000" stroke-width="1"/>
<text x="1115" y="336.332" font-size="16" fill="#ff0000" text-anchor="middle" font-weight="normal" textLength="57.5" lengthAdjust="spacingAndGlyphs" >106.122</text>
<rect x="972.5" y="484.5" width="61" height="18" fill="#fff" stroke="#ff0000" stroke-width="1"/>
<text x="1003" y="499.332" font-size="16" fill="#ff0000" text-anchor="middle" font-weight="normal" textLength="57.5" lengthAdjust="spacingAndGlyphs" >104.002</text>
<rect x="1284.5" y="549.5" width="61" height="18" fill="#fff" stroke="#ff0000" stroke-width="1"/>
<text x="1315" y="564.332" font-size="16" fill="#ff0000" text-anchor="middle" font-weight="normal" textLength="57.5" lengthAdjust="spacingAndGlyphs" >103.156</text>
<rect x="674" y="477" width="10" height="2" fill="#ff0000" />
<rect x="1146" y="330" width="10" height="1" fill="#ff0000" />
<rect x="1034" y="493" width="10" height="1" fill="#ff0000" />
<rect x="1034.5" y="491.5" width="3" height="3" fill="#fff" stroke="#ff0000" stroke-width="1"/>
<rect x="1180" y="493" width="10" height="1" fill="#ff0000" />
<rect x="1186.5" y="491.5" width="3" height="3" fill="#fff" stroke="#ff0000" stroke-width="1"/>
<rect x="1346" y="558" width="11" height="1" fill="#ff0000" />
<rect x="1346.5" y="556.5" width="3" height="3" fill="#fff" stroke="#ff0000" stroke-width="1"/>
<rect x="1492.5" y="502.5" width="110" height="24" fill="#fff" stroke="#303030" stroke-width="1"/>
<text x="1494" y="522" font-size="20" fill="#00ff00" font-weight="300" textLength="107" lengthAdjust="spacing" shape-rendering="auto">多空转折点</text>
<rect x="1546" y="500" width="2" height="2" fill="#ff00ff" />
<rect x="1695" y="452" width="41" height="11" fill="#ff0000" />
<text x="1699.5" y="461" font-size="9.8" fill="#fff" text-anchor="start" font-weight="normal" textLength="33" lengthAdjust="spacingAndGlyphs" >104.457</text>
<rect x="1695" y="471" width="41" height="11" fill="#ff0000" />
<text x="1699.5" y="480" font-size="9.8" fill="#fff" text-anchor="start" font-weight="normal" textLength="33" lengthAdjust="spacingAndGlyphs" >104.210</text>
<rect x="1695" y="487" width="41" height="11" fill="#32cd32" />
<text x="1699.5" y="496" font-size="9.8" fill="#fff" text-anchor="start" font-weight="normal" textLength="33" lengthAdjust="spacingAndGlyphs" >104.002</text>
<rect x="1695" y="501" width="41" height="11" fill="#000000" />
<text x="1699.5" y="510" font-size="9.8" fill="#fff" text-anchor="start" font-weight="normal" textLength="33" lengthAdjust="spacingAndGlyphs" >103.829</text>
<rect x="1695" y="525" width="41" height="11" fill="#0000ff" />
<text x="1699.5" y="534" font-size="9.8" fill="#fff" text-anchor="start" font-weight="normal" textLength="33" lengthAdjust="spacingAndGlyphs" >103.507</text>
<rect x="1695" y="552" width="41" height="11" fill="#0000ff" />
<text x="1699.5" y="561" font-size="9.8" fill="#fff" text-anchor="start" font-weight="normal" textLength="33" lengthAdjust="spacingAndGlyphs" >103.156</text>
<path d="M1451,18 L1460,18 L1455.5,22.5 Z" fill="#b0b0b0" shape-rendering="auto"/>
<path d="M6,28 L13.5,28 L9.75,24 Z" fill="#000" shape-rendering="auto"/>
<text x="18.6" y="28.7" font-size="9.8" fill="#000" text-anchor="start" font-weight="normal" textLength="62.8" lengthAdjust="spacingAndGlyphs" >USDJPY-,Daily</text>
<text x="88.3" y="28.7" font-size="9.8" fill="#000" text-anchor="start" font-weight="normal" textLength="140" lengthAdjust="spacingAndGlyphs" >104.161 104.161 103.644 103.829</text>
<!--PANEL-->
<g shape-rendering="crispEdges">
<rect x="6" y="37" width="219" height="64" fill="#f0f0f0" />
<rect x="6" y="37" width="52" height="24" fill="url(#gb)" />
<rect x="173" y="37" width="52" height="24" fill="url(#gb)" />
<rect x="6" y="61" width="109" height="40" fill="url(#gp)" />
<rect x="117" y="61" width="108" height="40" fill="url(#gp)" />
<rect x="115" y="61" width="2" height="40" fill="#fff" />
<rect x="10" y="60" width="44" height="1" fill="#1616a8" />
<rect x="177" y="60" width="44" height="1" fill="#1616a8" />
<rect x="10" y="61" width="44" height="1" fill="#9a9aff" />
<rect x="177" y="61" width="44" height="1" fill="#9a9aff" />
<rect x="60.5" y="37.5" width="110" height="21" fill="#fff" stroke="#a0a0a0" stroke-width="1"/>
<rect x="61.5" y="38.5" width="19" height="19" fill="url(#gg)" stroke="#b4b4b4" stroke-width="1"/>
<rect x="150.5" y="38.5" width="19" height="19" fill="url(#gg)" stroke="#b4b4b4" stroke-width="1"/>
<path d="M67.8,46 L73.8,46 L70.8,49.5 Z" fill="#4a5a9a" shape-rendering="auto"/>
<path d="M157,49.5 L163,49.5 L160,46 Z" fill="#4a5a9a" shape-rendering="auto"/>
</g>
<text x="31" y="52.6" font-size="11.5" fill="#fff" text-anchor="middle" font-weight="normal" textLength="25" lengthAdjust="spacingAndGlyphs" >SELL</text>
<text x="198.5" y="52.6" font-size="11.5" fill="#fff" text-anchor="middle" font-weight="normal" textLength="23" lengthAdjust="spacingAndGlyphs" >BUY</text>
<text x="145.8" y="51.4" font-size="11.5" fill="#000" text-anchor="end" font-weight="normal" textLength="23" lengthAdjust="spacingAndGlyphs" >1.00</text>
<text x="29.5" y="92" font-size="11.5" fill="#fff" text-anchor="start" font-weight="bold" textLength="20.5" lengthAdjust="spacingAndGlyphs" >103</text>
<text x="53.5" y="92" font-size="33.5" fill="#fff" text-anchor="start" font-weight="normal" textLength="35" lengthAdjust="spacingAndGlyphs" >82</text>
<text x="93.5" y="76.3" font-size="11" fill="#fff" text-anchor="start" font-weight="bold" >9</text>
<text x="139.5" y="92" font-size="11.5" fill="#fff" text-anchor="start" font-weight="bold" textLength="20.5" lengthAdjust="spacingAndGlyphs" >103</text>
<text x="163.5" y="92" font-size="33.5" fill="#fff" text-anchor="start" font-weight="normal" textLength="36.5" lengthAdjust="spacingAndGlyphs" >84</text>
<text x="204.5" y="76.3" font-size="11" fill="#fff" text-anchor="start" font-weight="bold" >5</text>
<!--MACD-->
<rect x="3" y="652" width="1" height="27" fill="#c0c0c0" />
<rect x="11" y="652" width="1" height="27" fill="#c0c0c0" />
<rect x="19" y="652" width="1" height="30" fill="#c0c0c0" />
<rect x="27" y="652" width="1" height="32" fill="#c0c0c0" />
<rect x="35" y="652" width="1" height="34" fill="#c0c0c0" />
<rect x="43" y="652" width="1" height="42" fill="#c0c0c0" />
<rect x="51" y="652" width="1" height="49" fill="#c0c0c0" />
<rect x="59" y="652" width="1" height="47" fill="#c0c0c0" />
<rect x="67" y="652" width="1" height="49" fill="#c0c0c0" />
<rect x="75" y="652" width="1" height="52" fill="#c0c0c0" />
<rect x="83" y="652" width="1" height="54" fill="#c0c0c0" />
<rect x="91" y="652" width="1" height="57" fill="#c0c0c0" />
<rect x="99" y="652" width="1" height="62" fill="#c0c0c0" />
<rect x="107" y="652" width="1" height="64" fill="#c0c0c0" />
<rect x="115" y="652" width="1" height="61" fill="#c0c0c0" />
<rect x="123" y="652" width="1" height="56" fill="#c0c0c0" />
<rect x="131" y="652" width="1" height="42" fill="#c0c0c0" />
<rect x="139" y="652" width="1" height="36" fill="#c0c0c0" />
<rect x="147" y="652" width="1" height="34" fill="#c0c0c0" />
<rect x="155" y="652" width="1" height="27" fill="#c0c0c0" />
<rect x="163" y="652" width="1" height="22" fill="#c0c0c0" />
<rect x="171" y="652" width="1" height="19" fill="#c0c0c0" />
<rect x="179" y="652" width="1" height="15" fill="#c0c0c0" />
<rect x="187" y="652" width="1" height="6" fill="#c0c0c0" />
<rect x="195" y="652" width="1" height="1" fill="#c0c0c0" />
<rect x="203" y="650" width="1" height="3" fill="#c0c0c0" />
<rect x="211" y="647" width="1" height="6" fill="#c0c0c0" />
<rect x="219" y="643" width="1" height="10" fill="#c0c0c0" />
<rect x="227" y="641" width="1" height="12" fill="#c0c0c0" />
<rect x="235" y="642" width="1" height="11" fill="#c0c0c0" />
<rect x="243" y="639" width="1" height="14" fill="#c0c0c0" />
<rect x="251" y="639" width="1" height="14" fill="#c0c0c0" />
<rect x="259" y="637" width="1" height="16" fill="#c0c0c0" />
<rect x="267" y="637" width="1" height="16" fill="#c0c0c0" />
<rect x="275" y="640" width="1" height="13" fill="#c0c0c0" />
<rect x="283" y="626" width="1" height="27" fill="#c0c0c0" />
<rect x="291" y="614" width="1" height="39" fill="#c0c0c0" />
<rect x="299" y="604" width="1" height="49" fill="#c0c0c0" />
<rect x="307" y="592" width="1" height="61" fill="#c0c0c0" />
<rect x="315" y="582" width="1" height="71" fill="#c0c0c0" />
<rect x="323" y="589" width="1" height="64" fill="#c0c0c0" />
<rect x="331" y="602" width="1" height="51" fill="#c0c0c0" />
<rect x="339" y="622" width="1" height="31" fill="#c0c0c0" />
<rect x="347" y="640" width="1" height="13" fill="#c0c0c0" />
<rect x="355" y="647" width="1" height="6" fill="#c0c0c0" />
<rect x="363" y="652" width="1" height="1" fill="#c0c0c0" />
<rect x="371" y="652" width="1" height="6" fill="#c0c0c0" />
<rect x="379" y="652" width="1" height="10" fill="#c0c0c0" />
<rect x="387" y="652" width="1" height="18" fill="#c0c0c0" />
<rect x="395" y="652" width="1" height="24" fill="#c0c0c0" />
<rect x="403" y="652" width="1" height="29" fill="#c0c0c0" />
<rect x="411" y="652" width="1" height="33" fill="#c0c0c0" />
<rect x="419" y="652" width="1" height="35" fill="#c0c0c0" />
<rect x="427" y="652" width="1" height="42" fill="#c0c0c0" />
<rect x="435" y="652" width="1" height="40" fill="#c0c0c0" />
<rect x="443" y="652" width="1" height="36" fill="#c0c0c0" />
<rect x="451" y="652" width="1" height="32" fill="#c0c0c0" />
<rect x="459" y="652" width="1" height="28" fill="#c0c0c0" />
<rect x="467" y="652" width="1" height="22" fill="#c0c0c0" />
<rect x="475" y="652" width="1" height="12" fill="#c0c0c0" />
<rect x="483" y="652" width="1" height="11" fill="#c0c0c0" />
<rect x="491" y="652" width="1" height="8" fill="#c0c0c0" />
<rect x="499" y="652" width="1" height="6" fill="#c0c0c0" />
<rect x="507" y="652" width="1" height="4" fill="#c0c0c0" />
<rect x="515" y="652" width="1" height="4" fill="#c0c0c0" />
<rect x="523" y="652" width="1" height="2" fill="#c0c0c0" />
<rect x="531" y="652" width="1" height="3" fill="#c0c0c0" />
<rect x="539" y="652" width="1" height="5" fill="#c0c0c0" />
<rect x="547" y="652" width="1" height="9" fill="#c0c0c0" />
<rect x="555" y="652" width="1" height="14" fill="#c0c0c0" />
<rect x="563" y="652" width="1" height="12" fill="#c0c0c0" />
<rect x="571" y="652" width="1" height="12" fill="#c0c0c0" />
<rect x="579" y="652" width="1" height="15" fill="#c0c0c0" />
<rect x="587" y="652" width="1" height="13" fill="#c0c0c0" />
<rect x="595" y="652" width="1" height="15" fill="#c0c0c0" />
<rect x="603" y="652" width="1" height="15" fill="#c0c0c0" />
<rect x="611" y="652" width="1" height="14" fill="#c0c0c0" />
<rect x="619" y="652" width="1" height="16" fill="#c0c0c0" />
<rect x="627" y="652" width="1" height="14" fill="#c0c0c0" />
<rect x="635" y="652" width="1" height="15" fill="#c0c0c0" />
<rect x="643" y="652" width="1" height="27" fill="#c0c0c0" />
<rect x="651" y="652" width="1" height="36" fill="#c0c0c0" />
<rect x="659" y="652" width="1" height="50" fill="#c0c0c0" />
<rect x="667" y="652" width="1" height="62" fill="#c0c0c0" />
<rect x="675" y="652" width="1" height="72" fill="#c0c0c0" />
<rect x="683" y="652" width="1" height="83" fill="#c0c0c0" />
<rect x="691" y="652" width="1" height="78" fill="#c0c0c0" />
<rect x="699" y="652" width="1" height="73" fill="#c0c0c0" />
<rect x="707" y="652" width="1" height="66" fill="#c0c0c0" />
<rect x="715" y="652" width="1" height="64" fill="#c0c0c0" />
<rect x="723" y="652" width="1" height="63" fill="#c0c0c0" />
<rect x="731" y="652" width="1" height="61" fill="#c0c0c0" />
<rect x="739" y="652" width="1" height="55" fill="#c0c0c0" />
<rect x="747" y="652" width="1" height="50" fill="#c0c0c0" />
<rect x="755" y="652" width="1" height="44" fill="#c0c0c0" />
<rect x="763" y="652" width="1" height="34" fill="#c0c0c0" />
<rect x="771" y="652" width="1" height="21" fill="#c0c0c0" />
<rect x="779" y="652" width="1" height="10" fill="#c0c0c0" />
<rect x="787" y="652" width="1" height="5" fill="#c0c0c0" />
<rect x="795" y="652" width="1" height="2" fill="#c0c0c0" />
<rect x="803" y="652" width="1" height="5" fill="#c0c0c0" />
<rect x="811" y="652" width="1" height="16" fill="#c0c0c0" />
<rect x="819" y="652" width="1" height="17" fill="#c0c0c0" />
<rect x="827" y="652" width="1" height="19" fill="#c0c0c0" />
<rect x="835" y="652" width="1" height="20" fill="#c0c0c0" />
<rect x="843" y="652" width="1" height="20" fill="#c0c0c0" />
<rect x="851" y="652" width="1" height="19" fill="#c0c0c0" />
<rect x="859" y="652" width="1" height="13" fill="#c0c0c0" />
<rect x="867" y="652" width="1" height="14" fill="#c0c0c0" />
<rect x="875" y="652" width="1" height="6" fill="#c0c0c0" />
<rect x="883" y="652" width="1" height="13" fill="#c0c0c0" />
<rect x="891" y="652" width="1" height="18" fill="#c0c0c0" />
<rect x="899" y="652" width="1" height="15" fill="#c0c0c0" />
<rect x="907" y="652" width="1" height="15" fill="#c0c0c0" />
<rect x="915" y="652" width="1" height="11" fill="#c0c0c0" />
<rect x="923" y="652" width="1" height="9" fill="#c0c0c0" />
<rect x="931" y="652" width="1" height="6" fill="#c0c0c0" />
<rect x="939" y="652" width="1" height="3" fill="#c0c0c0" />
<rect x="947" y="652" width="1" height="2" fill="#c0c0c0" />
<rect x="955" y="652" width="1" height="2" fill="#c0c0c0" />
<rect x="963" y="652" width="1" height="2" fill="#c0c0c0" />
<rect x="971" y="652" width="1" height="2" fill="#c0c0c0" />
<rect x="979" y="652" width="1" height="1" fill="#c0c0c0" />
<rect x="987" y="651" width="1" height="2" fill="#c0c0c0" />
<rect x="995" y="652" width="1" height="3" fill="#c0c0c0" />
<rect x="1003" y="652" width="1" height="11" fill="#c0c0c0" />
<rect x="1011" y="652" width="1" height="20" fill="#c0c0c0" />
<rect x="1019" y="652" width="1" height="31" fill="#c0c0c0" />
<rect x="1027" y="652" width="1" height="42" fill="#c0c0c0" />
<rect x="1035" y="652" width="1" height="49" fill="#c0c0c0" />
<rect x="1043" y="652" width="1" height="52" fill="#c0c0c0" />
<rect x="1051" y="652" width="1" height="50" fill="#c0c0c0" />
<rect x="1059" y="652" width="1" height="46" fill="#c0c0c0" />
<rect x="1067" y="652" width="1" height="39" fill="#c0c0c0" />
<rect x="1075" y="652" width="1" height="34" fill="#c0c0c0" />
<rect x="1083" y="652" width="1" height="28" fill="#c0c0c0" />
<rect x="1091" y="652" width="1" height="25" fill="#c0c0c0" />
<rect x="1099" y="652" width="1" height="20" fill="#c0c0c0" />
<rect x="1107" y="652" width="1" height="18" fill="#c0c0c0" />
<rect x="1115" y="652" width="1" height="15" fill="#c0c0c0" />
<rect x="1123" y="652" width="1" height="15" fill="#c0c0c0" />
<rect x="1131" y="652" width="1" height="13" fill="#c0c0c0" />
<rect x="1139" y="652" width="1" height="9" fill="#c0c0c0" />
<rect x="1147" y="652" width="1" height="7" fill="#c0c0c0" />
<rect x="1155" y="652" width="1" height="1" fill="#c0c0c0" />
<rect x="1163" y="648" width="1" height="5" fill="#c0c0c0" />
<rect x="1171" y="649" width="1" height="4" fill="#c0c0c0" />
<rect x="1179" y="649" width="1" height="4" fill="#c0c0c0" />
<rect x="1187" y="652" width="1" height="1" fill="#c0c0c0" />
<rect x="1195" y="652" width="1" height="2" fill="#c0c0c0" />
<rect x="1203" y="652" width="1" height="7" fill="#c0c0c0" />
<rect x="1211" y="652" width="1" height="8" fill="#c0c0c0" />
<rect x="1219" y="652" width="1" height="9" fill="#c0c0c0" />
<rect x="1227" y="652" width="1" height="9" fill="#c0c0c0" />
<rect x="1235" y="652" width="1" height="8" fill="#c0c0c0" />
<rect x="1243" y="652" width="1" height="7" fill="#c0c0c0" />
<rect x="1251" y="652" width="1" height="16" fill="#c0c0c0" />
<rect x="1259" y="652" width="1" height="20" fill="#c0c0c0" />
<rect x="1267" y="652" width="1" height="23" fill="#c0c0c0" />
<rect x="1275" y="652" width="1" height="28" fill="#c0c0c0" />
<rect x="1283" y="652" width="1" height="28" fill="#c0c0c0" />
<rect x="1291" y="652" width="1" height="33" fill="#c0c0c0" />
<rect x="1299" y="652" width="1" height="37" fill="#c0c0c0" />
<rect x="1307" y="652" width="1" height="39" fill="#c0c0c0" />
<rect x="1315" y="652" width="1" height="38" fill="#c0c0c0" />
<rect x="1323" y="652" width="1" height="38" fill="#c0c0c0" />
<rect x="1331" y="652" width="1" height="35" fill="#c0c0c0" />
<rect x="1339" y="652" width="1" height="35" fill="#c0c0c0" />
<rect x="1347" y="652" width="1" height="36" fill="#c0c0c0" />
<rect x="1355" y="652" width="1" height="46" fill="#c0c0c0" />
<rect x="1363" y="652" width="1" height="57" fill="#c0c0c0" />
<rect x="1371" y="652" width="1" height="65" fill="#c0c0c0" />
<rect x="1379" y="652" width="1" height="49" fill="#c0c0c0" />
<rect x="1387" y="652" width="1" height="35" fill="#c0c0c0" />
<rect x="1395" y="652" width="1" height="22" fill="#c0c0c0" />
<rect x="1403" y="652" width="1" height="15" fill="#c0c0c0" />
<rect x="1411" y="652" width="1" height="14" fill="#c0c0c0" />
<rect x="1419" y="652" width="1" height="13" fill="#c0c0c0" />
<rect x="1427" y="652" width="1" height="14" fill="#c0c0c0" />
<rect x="1435" y="652" width="1" height="18" fill="#c0c0c0" />
<rect x="1443" y="652" width="1" height="25" fill="#c0c0c0" />
<polyline points="3.5,674.4 11.4,676.9 19.5,678.7 27.6,679.5 35.4,681.5 43.5,683.3 51.3,685.3 59.4,687.8 67.5,688.8 75.3,690.8 83.4,694.6 91.5,697.7 99.4,701.5 107.5,704.7 115.5,706.0 123.4,707.3 131.5,706.0 139.6,704.7 147.4,703.5 155.5,700.2 163.6,696.7 171.4,690.8 179.5,687.0 187.4,680.7 195.4,674.4 203.5,670.1 211.4,665.6 219.5,659.2 227.6,654.7 235.4,652.4 243.5,648.6 251.3,645.3 259.4,642.8 267.5,641.5 275.3,640.3 283.4,638.2 291.5,633.9 299.4,630.2 307.5,624.3 315.5,618.3 323.4,613.2 331.5,609.2 339.6,607.4 347.4,607.4 355.5,609.2 363.6,613.7 371.4,618.8 379.5,626.4 387.6,635.2 395.4,644.1 403.5,652.9 411.4,660.5 419.5,666.8 427.6,672.6 435.6,677.7 443.4,681.2 451.5,683.3 459.6,684.5 467.4,684.5 475.5,682.5 483.6,680.7 491.4,676.9 499.5,673.1 507.6,668.8 515.5,665.6 523.6,662.3 531.6,659.2 539.5,657.5 547.6,657.5 555.4,657.5 563.5,658.5 571.6,658.5 579.4,659.2 587.5,660.5 595.6,662.3 603.5,663.5 611.5,664.8 619.6,665.6 627.5,665.6 635.6,665.6 643.7,667.6 651.5,669.3 659.6,674.4 667.7,679.5 675.5,687.0 683.6,693.9 691.7,701.0 699.5,707.3 707.6,711.8 715.7,716.1 723.6,719.2 731.6,720.4 739.5,719.4 747.6,717.4 755.7,713.1 763.5,708.5 771.6,702.2 779.7,695.9 787.5,688.8 795.6,682.5 803.7,676.4 811.5,672.4 819.6,668.1 827.7,665.6 835.6,664.8 843.7,664.8 851.7,665.6 859.6,665.6 867.6,667.3 875.4,667.6 883.5,667.6 891.6,667.6 899.4,666.8 907.5,666.1 915.6,665.0 923.5,664.3 931.6,663.0 939.6,661.8 947.5,661.0 955.6,659.7 963.7,658.5 971.5,656.2 979.6,654.2 987.7,652.9 995.5,652.9 1003.6,654.2 1011.7,654.9 1019.5,658.7 1027.6,663.0 1035.7,668.8 1043.6,675.2 1051.7,680.7 1059.7,685.0 1067.6,689.1 1075.7,692.1 1083.5,693.4 1091.6,692.6 1099.7,689.6 1107.5,685.8 1115.6,682.0 1123.7,678.2 1131.6,674.4 1139.6,671.4 1147.7,668.1 1155.6,664.8 1163.7,661.8 1171.8,659.2 1179.6,656.7 1187.7,655.4 1195.8,653.4 1203.6,653.4 1211.7,653.4 1219.8,653.4 1227.6,654.7 1235.7,655.4 1243.8,656.7 1251.7,658.0 1259.7,661.3 1267.8,663.0 1275.7,665.0 1283.8,668.1 1291.9,669.9 1299.7,673.1 1307.6,676.9 1315.4,680.7 1323.5,682.7 1331.6,685.3 1339.4,686.3 1347.5,687.5 1355.6,689.6 1363.5,692.9 1371.6,693.9 1379.6,696.4 1387.5,695.1 1395.6,693.4 1403.7,690.8 1411.5,688.8 1419.6,686.3 1427.7,682.7 1435.5,678.7 1441.6,675.2" fill="none" stroke="#ff0000" stroke-width="1" stroke-dasharray="3 2"/>
<text x="7" y="585" font-size="9.8" fill="#000" text-anchor="start" font-weight="normal" textLength="133.5" lengthAdjust="spacingAndGlyphs" >MACD(12,26,9) -0.1732 -0.1559</text>
<text x="1697.5" y="583.1" font-size="9.8" fill="#000" text-anchor="start" font-weight="normal" textLength="27.5" lengthAdjust="spacingAndGlyphs" >0.5592</text>
<text x="1697.5" y="656.1" font-size="9.8" fill="#000" text-anchor="start" font-weight="normal" textLength="17.5" lengthAdjust="spacingAndGlyphs" >0.00</text>
<text x="1697.5" y="739.1" font-size="9.8" fill="#000" text-anchor="start" font-weight="normal" textLength="31" lengthAdjust="spacingAndGlyphs" >-0.6387</text>
<rect x="1694" y="652" width="2" height="1" fill="#000" />
<!--RSI-->
<line x1="3" x2="1693" y1="780.5" y2="780.5" stroke="#c0c0c0" stroke-width="1" stroke-dasharray="3 3"/>
<line x1="3" x2="1693" y1="831.5" y2="831.5" stroke="#c0c0c0" stroke-width="1" stroke-dasharray="3 3"/>
<line x1="3" x2="1693" y1="892.5" y2="892.5" stroke="#c0c0c0" stroke-width="1" stroke-dasharray="3 3"/>
<polyline points="3.5,835.7 11.5,839.0 19.5,841.7 27.5,839.0 35.5,843.3 43.5,850.0 51.5,852.7 59.5,839.3 67.5,845.0 75.5,847.3 83.5,847.3 91.5,851.0 99.5,854.7 107.5,851.7 115.5,844.0 123.5,838.7 131.5,825.7 139.5,833.3 147.5,837.3 155.5,829.3 163.5,830.0 171.5,832.3 179.5,828.3 187.5,820.7 195.5,825.7 203.5,824.3 211.5,826.7 219.5,822.0 227.5,824.3 235.5,829.3 243.5,822.0 251.5,826.3 259.5,822.3 267.5,826.0 275.5,830.7 283.5,804.3 291.5,801.3 299.5,799.3 307.5,793.3 315.5,793.3 323.5,825.7 331.5,836.7 339.5,848.3 347.5,851.7 355.5,839.3 363.5,840.7 371.5,837.3 379.5,839.0 387.5,847.3 395.5,844.3 403.5,846.3 411.5,847.7 419.5,845.3 427.5,854.7 435.5,839.7 443.5,836.7 451.5,836.7 459.5,835.3 467.5,826.7 475.5,818.3 483.5,832.3 491.5,830.3 499.5,830.3 507.5,828.3 515.5,833.3 523.5,828.7 531.5,835.3 539.5,836.7 547.5,843.3 555.5,844.7 563.5,833.3 571.5,834.7 579.5,843.3 587.5,832.3 595.5,840.0 603.5,836.7 611.5,834.3 619.5,843.3 627.5,833.3 635.5,841.0 643.5,856.0 651.5,856.7 659.5,867.0 667.5,869.3 675.5,869.3 683.5,874.0 691.5,845.3 699.5,843.3 707.5,839.3 715.5,846.0 723.5,847.3 731.5,847.3 739.5,838.3 747.5,839.3 755.5,836.7 763.5,824.0 771.5,818.3 779.5,815.3 787.5,826.0 795.5,826.3 803.5,839.3 811.5,852.3 819.5,834.7 827.5,841.3 835.5,838.7 843.5,837.3 851.5,834.7 859.5,826.7 867.5,837.3 875.5,823.3 883.5,842.3 891.5,840.0 899.5,833.3 907.5,834.7 915.5,829.3 923.5,831.0 931.5,829.3 939.5,827.3 947.5,827.3 955.5,834.3 963.5,829.3 971.5,831.0 979.5,832.7 987.5,831.3 995.5,839.3 1003.5,846.0 1011.5,852.3 1019.5,858.3 1027.5,861.3 1035.5,862.3 1043.5,856.7 1051.5,846.0 1059.5,839.0 1067.5,835.3 1075.5,830.3 1083.5,831.7 1091.5,835.3 1099.5,828.7 1107.5,835.3 1115.5,832.0 1123.5,836.3 1131.5,832.7 1139.5,826.3 1147.5,829.7 1155.5,819.3 1163.5,817.2 1171.5,831.4 1179.5,831.4 1187.5,840.0 1195.5,836.2 1203.5,845.2 1211.5,838.3 1219.5,836.2 1227.5,835.2 1235.5,834.1 1243.5,832.8 1251.5,857.2 1259.5,848.3 1267.5,852.1 1275.5,853.4 1283.5,847.2 1291.5,855.5 1299.5,860.3 1307.5,850.3 1315.5,845.2 1323.5,848.3 1331.5,842.4 1339.5,848.3 1347.5,851.4 1355.5,868.3 1363.5,874.1 1371.5,873.1 1379.5,822.1 1387.5,820.0 1395.5,818.3 1403.5,825.2 1411.5,835.2 1419.5,834.1 1427.5,836.6 1435.5,842.8 1443.5,848.6" fill="none" stroke="#1e90ff" stroke-width="1" />
<text x="7" y="757" font-size="9.8" fill="#000" text-anchor="start" font-weight="normal" textLength="68" lengthAdjust="spacingAndGlyphs" >RSI(14) 39.5908</text>
<text x="1696.8" y="755.1" font-size="9.8" fill="#000" text-anchor="start" font-weight="normal" textLength="14.5" lengthAdjust="spacingAndGlyphs" >100</text>
<text x="1696.8" y="784.1" font-size="9.8" fill="#000" text-anchor="start" font-weight="normal" textLength="9.8" lengthAdjust="spacingAndGlyphs" >80</text>
<text x="1696.8" y="835.1" font-size="9.8" fill="#000" text-anchor="start" font-weight="normal" textLength="9.8" lengthAdjust="spacingAndGlyphs" >50</text>
<text x="1696.8" y="896.1" font-size="9.8" fill="#000" text-anchor="start" font-weight="normal" textLength="9.8" lengthAdjust="spacingAndGlyphs" >15</text>
<text x="1696.8" y="915.1" font-size="9.8" fill="#000" text-anchor="start" font-weight="normal" textLength="4.6" lengthAdjust="spacingAndGlyphs" >0</text>
<!--DATES-->
<rect x="3" y="919" width="1" height="3" fill="#000" />
<text x="2.3" y="931" font-size="9.8" fill="#000" text-anchor="start" font-weight="normal" textLength="50.3219" lengthAdjust="spacingAndGlyphs" >22 Apr 2020</text>
<rect x="67" y="919" width="1" height="3" fill="#000" />
<text x="66.3" y="931" font-size="9.8" fill="#000" text-anchor="start" font-weight="normal" textLength="48.7548" lengthAdjust="spacingAndGlyphs" >1 May 2020</text>
<rect x="131" y="919" width="1" height="3" fill="#000" />
<text x="130.3" y="931" font-size="9.8" fill="#000" text-anchor="start" font-weight="normal" textLength="53.2512" lengthAdjust="spacingAndGlyphs" >11 May 2020</text>
<rect x="195" y="919" width="1" height="3" fill="#000" />
<text x="194.3" y="931" font-size="9.8" fill="#000" text-anchor="start" font-weight="normal" textLength="53.9438" lengthAdjust="spacingAndGlyphs" >20 May 2020</text>
<rect x="259" y="919" width="1" height="3" fill="#000" />
<text x="258.3" y="931" font-size="9.8" fill="#000" text-anchor="start" font-weight="normal" textLength="53.9438" lengthAdjust="spacingAndGlyphs" >29 May 2020</text>
<rect x="323" y="919" width="1" height="3" fill="#000" />
<text x="322.3" y="931" font-size="9.8" fill="#000" text-anchor="start" font-weight="normal" textLength="46.1717" lengthAdjust="spacingAndGlyphs" >8 Jun 2020</text>
<rect x="387" y="919" width="1" height="3" fill="#000" />
<text x="386.3" y="931" font-size="9.8" fill="#000" text-anchor="start" font-weight="normal" textLength="51.3606" lengthAdjust="spacingAndGlyphs" >17 Jun 2020</text>
<rect x="451" y="919" width="1" height="3" fill="#000" />
<text x="450.3" y="931" font-size="9.8" fill="#000" text-anchor="start" font-weight="normal" textLength="51.3606" lengthAdjust="spacingAndGlyphs" >26 Jun 2020</text>
<rect x="515" y="919" width="1" height="3" fill="#000" />
<text x="514.3" y="931" font-size="9.8" fill="#000" text-anchor="start" font-weight="normal" textLength="43.0556" lengthAdjust="spacingAndGlyphs" >6 Jul 2020</text>
<rect x="579" y="919" width="1" height="3" fill="#000" />
<text x="578.3" y="931" font-size="9.8" fill="#000" text-anchor="start" font-weight="normal" textLength="48.2445" lengthAdjust="spacingAndGlyphs" >15 Jul 2020</text>
<rect x="643" y="919" width="1" height="3" fill="#000" />
<text x="642.3" y="931" font-size="9.8" fill="#000" text-anchor="start" font-weight="normal" textLength="48.2445" lengthAdjust="spacingAndGlyphs" >24 Jul 2020</text>
<rect x="707" y="919" width="1" height="3" fill="#000" />
<text x="706.3" y="931" font-size="9.8" fill="#000" text-anchor="start" font-weight="normal" textLength="47.2148" lengthAdjust="spacingAndGlyphs" >3 Aug 2020</text>
<rect x="771" y="919" width="1" height="3" fill="#000" />
<text x="770.3" y="931" font-size="9.8" fill="#000" text-anchor="start" font-weight="normal" textLength="52.4038" lengthAdjust="spacingAndGlyphs" >12 Aug 2020</text>
<rect x="835" y="919" width="1" height="3" fill="#000" />
<text x="834.3" y="931" font-size="9.8" fill="#000" text-anchor="start" font-weight="normal" textLength="52.4038" lengthAdjust="spacingAndGlyphs" >21 Aug 2020</text>
<rect x="899" y="919" width="1" height="3" fill="#000" />
<text x="898.3" y="931" font-size="9.8" fill="#000" text-anchor="start" font-weight="normal" textLength="52.4038" lengthAdjust="spacingAndGlyphs" >31 Aug 2020</text>
<rect x="963" y="919" width="1" height="3" fill="#000" />
<text x="962.3" y="931" font-size="9.8" fill="#000" text-anchor="start" font-weight="normal" textLength="47.7297" lengthAdjust="spacingAndGlyphs" >9 Sep 2020</text>
<rect x="1027" y="919" width="1" height="3" fill="#000" />
<text x="1026.3" y="931" font-size="9.8" fill="#000" text-anchor="start" font-weight="normal" textLength="52.9186" lengthAdjust="spacingAndGlyphs" >18 Sep 2020</text>
<rect x="1091" y="919" width="1" height="3" fill="#000" />
<text x="1090.3" y="931" font-size="9.8" fill="#000" text-anchor="start" font-weight="normal" textLength="52.9186" lengthAdjust="spacingAndGlyphs" >28 Sep 2020</text>
<rect x="1155" y="919" width="1" height="3" fill="#000" />
<text x="1154.3" y="931" font-size="9.8" fill="#000" text-anchor="start" font-weight="normal" textLength="45.6433" lengthAdjust="spacingAndGlyphs" >7 Oct 2020</text>
<rect x="1219" y="919" width="1" height="3" fill="#000" />
<text x="1218.3" y="931" font-size="9.8" fill="#000" text-anchor="start" font-weight="normal" textLength="50.8322" lengthAdjust="spacingAndGlyphs" >16 Oct 2020</text>
<rect x="1283" y="919" width="1" height="3" fill="#000" />
<text x="1282.3" y="931" font-size="9.8" fill="#000" text-anchor="start" font-weight="normal" textLength="50.8322" lengthAdjust="spacingAndGlyphs" >26 Oct 2020</text>
<rect x="1347" y="919" width="1" height="3" fill="#000" />
<text x="1346.3" y="931" font-size="9.8" fill="#000" text-anchor="start" font-weight="normal" textLength="47.7206" lengthAdjust="spacingAndGlyphs" >4 Nov 2020</text>
<rect x="1411" y="919" width="1" height="3" fill="#000" />
<text x="1410.3" y="931" font-size="9.8" fill="#000" text-anchor="start" font-weight="normal" textLength="52.9095" lengthAdjust="spacingAndGlyphs" >13 Nov 2020</text>
<g clip-path="url(#ctb)" shape-rendering="auto">
<rect x="1.5" y="-6" width="14.5" height="13.3" rx="1.5" fill="#fff" stroke="#3a7bd5" stroke-width="1.4"/>
<rect x="1.5" y="-6" width="2.6" height="13.3" fill="#2f6fc8"/>
<rect x="5" y="2" width="10" height="1" fill="#c5d9f5"/><rect x="5.5" y="1.5" width="1.5" height="1.5" fill="#e00000"/>
<rect x="29" y="-5" width="8" height="11" fill="#f8f8f8" stroke="#a0a0a0" stroke-width="0.8"/>
<path d="M40.5,5 L45.8,9.8" stroke="#d4a017" stroke-width="2.4" stroke-linecap="round"/>
<circle cx="37" cy="1" r="5.4" fill="#cfe3f8" fill-opacity="0.9" stroke="#7aa7e0" stroke-width="1.4"/>
<rect x="54" y="0" width="1" height="10.8" fill="#8c8c8c" shape-rendering="crispEdges"/>
<rect x="64.2" y="-4" width="7.5" height="10" fill="#fff" stroke="#8a8a8a" stroke-width="1"/>
<path d="M72.2,0 h4.4 v3 h3.6 v3.6 h-3.6 v4.2 h-4.4 v-4.2 h-4 v-3.6 h4 Z" fill="#1fc41f" stroke="#0a8f0a" stroke-width="0.8"/>
<text x="82.6" y="4.3" font-size="12" fill="#000" font-weight="500">新订单</text>
<path d="M131,1 L139,-5 L147,0 L146.5,3.5 L139,8.6 L131.5,3.5 Z" fill="#e3b341" stroke="#b8860b" stroke-width="0.8"/>
<path d="M131.5,2.8 L139,7.2 L146.5,2.4" stroke="#fff3c4" stroke-width="0.9" fill="none"/>
<path d="M162,8.5 a3.4,3.4 0 0 1 -0.3,-6.6 a5,5 0 0 1 8.6,-1.8 a3.8,3.8 0 0 1 4.6,3.4 a2.6,2.6 0 0 1 -0.9,5 Z" fill="#e9f1fb" stroke="#5d7fc0" stroke-width="1"/>
<path d="M195,8.6 V-2 a8,8.5 0 0 1 7.6,2 a9,9 0 0 1 -7.6,8.6 Z" fill="#57a860" stroke="#2f8a3a" stroke-width="0.8"/>
<path d="M193.5,8 a8,9 0 0 1 -4.5,-9 M191.5,5.5 a6,6 0 0 1 -1,-6.5" stroke="#5b8fe0" stroke-width="1.2" fill="none"/>
<rect x="194.3" y="-2" width="1.4" height="10.8" fill="#12a012"/>
<path d="M214.5,0.5 L221,-6 L228,0.5 L221.5,8.4 Z" fill="#f3d04a" stroke="#c9a21e" stroke-width="0.8"/>
<circle cx="226.2" cy="4.6" r="3.9" fill="#e02010"/><rect x="224.6" y="3" width="3.2" height="3.2" fill="#fff"/>
<text x="236" y="4.3" font-size="12" fill="#000" font-weight="500" textLength="46.5" lengthAdjust="spacingAndGlyphs">自动交易</text>
<rect x="291" y="0" width="1" height="13" fill="#b4b4b4" shape-rendering="crispEdges"/>
<rect x="294" y="1" width="3" height="1" fill="#9a9a9a" shape-rendering="crispEdges"/>
<rect x="294" y="3" width="3" height="1" fill="#9a9a9a" shape-rendering="crispEdges"/>
<rect x="294" y="5" width="3" height="1" fill="#9a9a9a" shape-rendering="crispEdges"/>
<rect x="294" y="7" width="3" height="1" fill="#9a9a9a" shape-rendering="crispEdges"/>
<rect x="294" y="9" width="3" height="1" fill="#9a9a9a" shape-rendering="crispEdges"/>
<path d="M308.5,0 V9 M306,6.5 H318.5 M317,5 L319.5,6.5 L317,8" stroke="#505050" stroke-width="1" fill="none"/>
<path d="M314,-3 V3.6 M311.8,3.2 H314" stroke="#14a014" stroke-width="1.4" fill="none"/>
<rect x="328" y="0" width="1" height="10.8" fill="#8c8c8c" shape-rendering="crispEdges"/>
<rect x="329.5" y="0" width="23.5" height="11" fill="#f8f8f8"/>
<path d="M336.5,0 V9 M334,6.5 H346.5 M345,5 L347.5,6.5 L345,8" stroke="#505050" stroke-width="1" fill="none"/>
<rect x="340.5" y="-3" width="4.2" height="6" fill="#14b414"/><rect x="342" y="3" width="1.2" height="1.6" fill="#14a014"/>
<path d="M364.5,0 V9 M362,6.5 H374.5 M373,5 L375.5,6.5 L373,8" stroke="#505050" stroke-width="1" fill="none"/>
<path d="M362.8,3.8 L367,-1 M371,-1 L374.5,2.2" stroke="#14a014" stroke-width="1.2" fill="none"/>
<rect x="385" y="0" width="1" height="10.8" fill="#8c8c8c" shape-rendering="crispEdges"/>
<path d="M403.5,3 L409,8" stroke="#d4a017" stroke-width="2.6" stroke-linecap="round"/>
<circle cx="400" cy="-1" r="5.6" fill="#d6eafa" stroke="#3f7fd0" stroke-width="1.3"/>
<rect x="399.2" y="-3" width="1.6" height="4.5" fill="#2b62c0"/>
<path d="M431,3 L437,8" stroke="#d4a017" stroke-width="2.6" stroke-linecap="round"/>
<circle cx="427.5" cy="-1" r="5.6" fill="#d6eafa" stroke="#3f7fd0" stroke-width="1.3"/>
<rect x="450" y="-4" width="7.6" height="12.4" fill="#2f66e0"/><rect x="458.2" y="-4" width="7.6" height="12.4" fill="#3cac28"/>
<rect x="451.4" y="4.6" width="4.8" height="2.4" fill="#fff" fill-opacity="0.9"/><rect x="459.6" y="4.6" width="4.8" height="2.4" fill="#fff" fill-opacity="0.9"/>
<rect x="450" y="0.5" width="7.6" height="1" fill="#9fc0ff"/><rect x="458.2" y="0.5" width="7.6" height="1" fill="#b6e6a6"/>
<rect x="475" y="0" width="1" height="10.8" fill="#8c8c8c" shape-rendering="crispEdges"/>
<rect x="480" y="0" width="1" height="10.8" fill="#8c8c8c" shape-rendering="crispEdges"/>
<rect x="481" y="0" width="23.5" height="11" fill="#f8f8f8"/>
<path d="M488.5,0 V9 M486,6.5 H498.5 M497,5 L499.5,6.5 L497,8" stroke="#505050" stroke-width="1" fill="none"/>
<path d="M493,-2 L497.2,0.2 L493,3.6 Z" fill="#22b422"/>
<rect x="508" y="0" width="1" height="10.8" fill="#8c8c8c" shape-rendering="crispEdges"/>
<rect x="509" y="0" width="23.5" height="11" fill="#f8f8f8"/>
<path d="M516.5,0 V9 M514,6.5 H526.5 M525,5 L527.5,6.5 L525,8" stroke="#505050" stroke-width="1" fill="none"/>
<rect x="521.8" y="-2" width="1.2" height="6.6" fill="#1f66c0"/><path d="M523,-2 L527.5,0 L523,2.6 Z" fill="#f05010"/>
<rect x="537" y="0" width="1" height="10.8" fill="#8c8c8c" shape-rendering="crispEdges"/>
<rect x="547" y="-4" width="7.5" height="10" fill="#fff" stroke="#8a8a8a" stroke-width="1"/>
<path d="M555,0 h4.4 v3 h3.6 v3.6 h-3.6 v4.2 h-4.4 v-4.2 h-4 v-3.6 h4 Z" fill="#1fc41f" stroke="#0a8f0a" stroke-width="0.8"/>
<path d="M568.3,0 h6.4 l-3.2,3.2 Z" fill="#000"/>
<circle cx="592.8" cy="0.6" r="6.9" fill="#fff" stroke="#1f6fd6" stroke-width="2.2"/>
<path d="M592.8,0.6 V-3 M592.8,0.6 L595,2" stroke="#404040" stroke-width="1"/>
<path d="M607.3,0 h6.4 l-3.2,3.2 Z" fill="#000"/>
<rect x="624.6" y="-6" width="14.6" height="13.4" fill="#fff" stroke="#2f74d8" stroke-width="1.3"/>
<path d="M627,5.4 l2,-1.4 l2,1 l2.6,-2.4 l2.4,1.6" stroke="#14a014" stroke-width="1.2" fill="none"/>
<rect x="624.6" y="2" width="14.6" height="0.8" fill="#9cc0f0"/><rect x="627" y="-1" width="3" height="1.6" fill="#a02010"/>
<path d="M646.2,0 h6.4 l-3.2,3.2 Z" fill="#000"/>
<rect x="658.5" y="0" width="1" height="13" fill="#808080" shape-rendering="crispEdges"/>
<rect x="662" y="1" width="3" height="1" fill="#9a9a9a" shape-rendering="crispEdges"/>
<rect x="662" y="3" width="3" height="1" fill="#9a9a9a" shape-rendering="crispEdges"/>
<rect x="662" y="5" width="3" height="1" fill="#9a9a9a" shape-rendering="crispEdges"/>
<rect x="662" y="7" width="3" height="1" fill="#9a9a9a" shape-rendering="crispEdges"/>
<rect x="662" y="9" width="3" height="1" fill="#9a9a9a" shape-rendering="crispEdges"/>
<rect x="668.5" y="0" width="1" height="10.8" fill="#b0b0b0" shape-rendering="crispEdges"/>
<rect x="669.7" y="0" width="23.5" height="11" fill="#f8f8f8"/>
<path d="M676.6,-3 L676.6,6.2 L679,4.2 L681,8.4 L682.8,7.6 L680.8,3.6 L684,3.4 Z" fill="#404040"/>
<path d="M700.7,1.5 H716.2 M708.5,1.5 V9" stroke="#505050" stroke-width="1" shape-rendering="crispEdges"/>
<rect x="725" y="0" width="1" height="10.8" fill="#8c8c8c" shape-rendering="crispEdges"/>
<rect x="742" y="0" width="1" height="8" fill="#505050" shape-rendering="crispEdges"/>
<rect x="768" y="1" width="9" height="1" fill="#505050" shape-rendering="crispEdges"/>
<path d="M792.6,8 L801.3,0" stroke="#606060" stroke-width="1"/>
<path d="M819,5 L825,-1 M821,7 L829,-1 M825,7 L831,1" stroke="#606060" stroke-width="1"/>
<text x="829.6" y="9.6" font-size="7" font-weight="bold" fill="#404040">E</text>
<path d="M848,1.5 H861 M848,5.5 H857" stroke="#606060" stroke-width="1" stroke-dasharray="1 1" shape-rendering="crispEdges"/>
<text x="857.4" y="9.6" font-size="7" font-weight="bold" fill="#404040">F</text>
<text x="878.4" y="5.6" font-size="12" fill="#505050">A</text>
<rect x="905.5" y="-4" width="11" height="11.5" fill="none" stroke="#606060" stroke-width="1" stroke-dasharray="1 1" shape-rendering="crispEdges"/><rect x="910" y="0" width="2" height="5" fill="#404040"/>
<path d="M934,1 L936.5,3.6 L941,-1.5" stroke="#404040" stroke-width="1.4" fill="none"/><path d="M939,5.2 L942.2,3 L945.5,5.2 L942.2,7.6 Z" fill="#404040"/>
<path d="M951.6,0 h6.4 l-3.2,3.2 Z" fill="#000"/>
<rect x="964.5" y="0" width="1" height="13" fill="#808080" shape-rendering="crispEdges"/>
<rect x="968" y="1" width="3" height="1" fill="#9a9a9a" shape-rendering="crispEdges"/>
<rect x="968" y="3" width="3" height="1" fill="#9a9a9a" shape-rendering="crispEdges"/>
<rect x="968" y="5" width="3" height="1" fill="#9a9a9a" shape-rendering="crispEdges"/>
<rect x="968" y="7" width="3" height="1" fill="#9a9a9a" shape-rendering="crispEdges"/>
<rect x="968" y="9" width="3" height="1" fill="#9a9a9a" shape-rendering="crispEdges"/>
<text x="979.3" y="4.4" font-size="9.5" fill="#505050" textLength="13" lengthAdjust="spacingAndGlyphs">M1</text>
<text x="1008" y="4.4" font-size="9.5" fill="#505050" textLength="12.3" lengthAdjust="spacingAndGlyphs">M5</text>
<text x="1033.8" y="4.4" font-size="9.5" fill="#505050" textLength="17.2" lengthAdjust="spacingAndGlyphs">M15</text>
<text x="1061.7" y="4.4" font-size="9.5" fill="#505050" textLength="17.6" lengthAdjust="spacingAndGlyphs">M30</text>
<text x="1092.8" y="4.4" font-size="9.5" fill="#505050" textLength="11.7" lengthAdjust="spacingAndGlyphs">H1</text>
<text x="1119.5" y="4.4" font-size="9.5" fill="#505050" textLength="12.5" lengthAdjust="spacingAndGlyphs">H4</text>
<rect x="1142.8" y="0" width="25" height="11" fill="#f8f8f8"/>
<text x="1148.3" y="4.4" font-size="9.5" fill="#505050" textLength="12" lengthAdjust="spacingAndGlyphs">D1</text>
<text x="1176.9" y="4.4" font-size="9.5" fill="#505050" textLength="13.3" lengthAdjust="spacingAndGlyphs">W1</text>
<text x="1202.8" y="4.4" font-size="9.5" fill="#505050" textLength="14.4" lengthAdjust="spacingAndGlyphs">MN</text>
<rect x="1142" y="0" width="1" height="10.5" fill="#8c8c8c" shape-rendering="crispEdges"/>
<rect x="1225.5" y="0" width="1" height="13" fill="#a0a0a0" shape-rendering="crispEdges"/>
<path d="M1687.4,6.2 L1692.4,1.6" stroke="#2f63d8" stroke-width="2.4" stroke-linecap="round"/><circle cx="1695.8" cy="-2" r="4" fill="#fff" stroke="#2f63d8" stroke-width="1.4"/>
<path d="M1725.5,-4 h8 a1,1 0 0 1 1,1 v5.4 a1,1 0 0 1 -1,1 h-1.6 l-0.6,1.6 l-1.6,-1.6 h-4.2 Z" fill="#e4e4ee" stroke="#8a8a92" stroke-width="0.8"/>
<path d="M1715,-4 h9 a1.2,1.2 0 0 1 1.2,1.2 v7.2 a1.2,1.2 0 0 1 -1.2,1.2 h-5.4 l-2.4,2.4 l0.4,-2.4 h-1.6 a1.2,1.2 0 0 1 -1.2,-1.2 v-7.2 a1.2,1.2 0 0 1 1.2,-1.2 Z" fill="#f6f6f8" stroke="#8a8a92" stroke-width="0.8"/>
</g>
</svg>
</body></html>
